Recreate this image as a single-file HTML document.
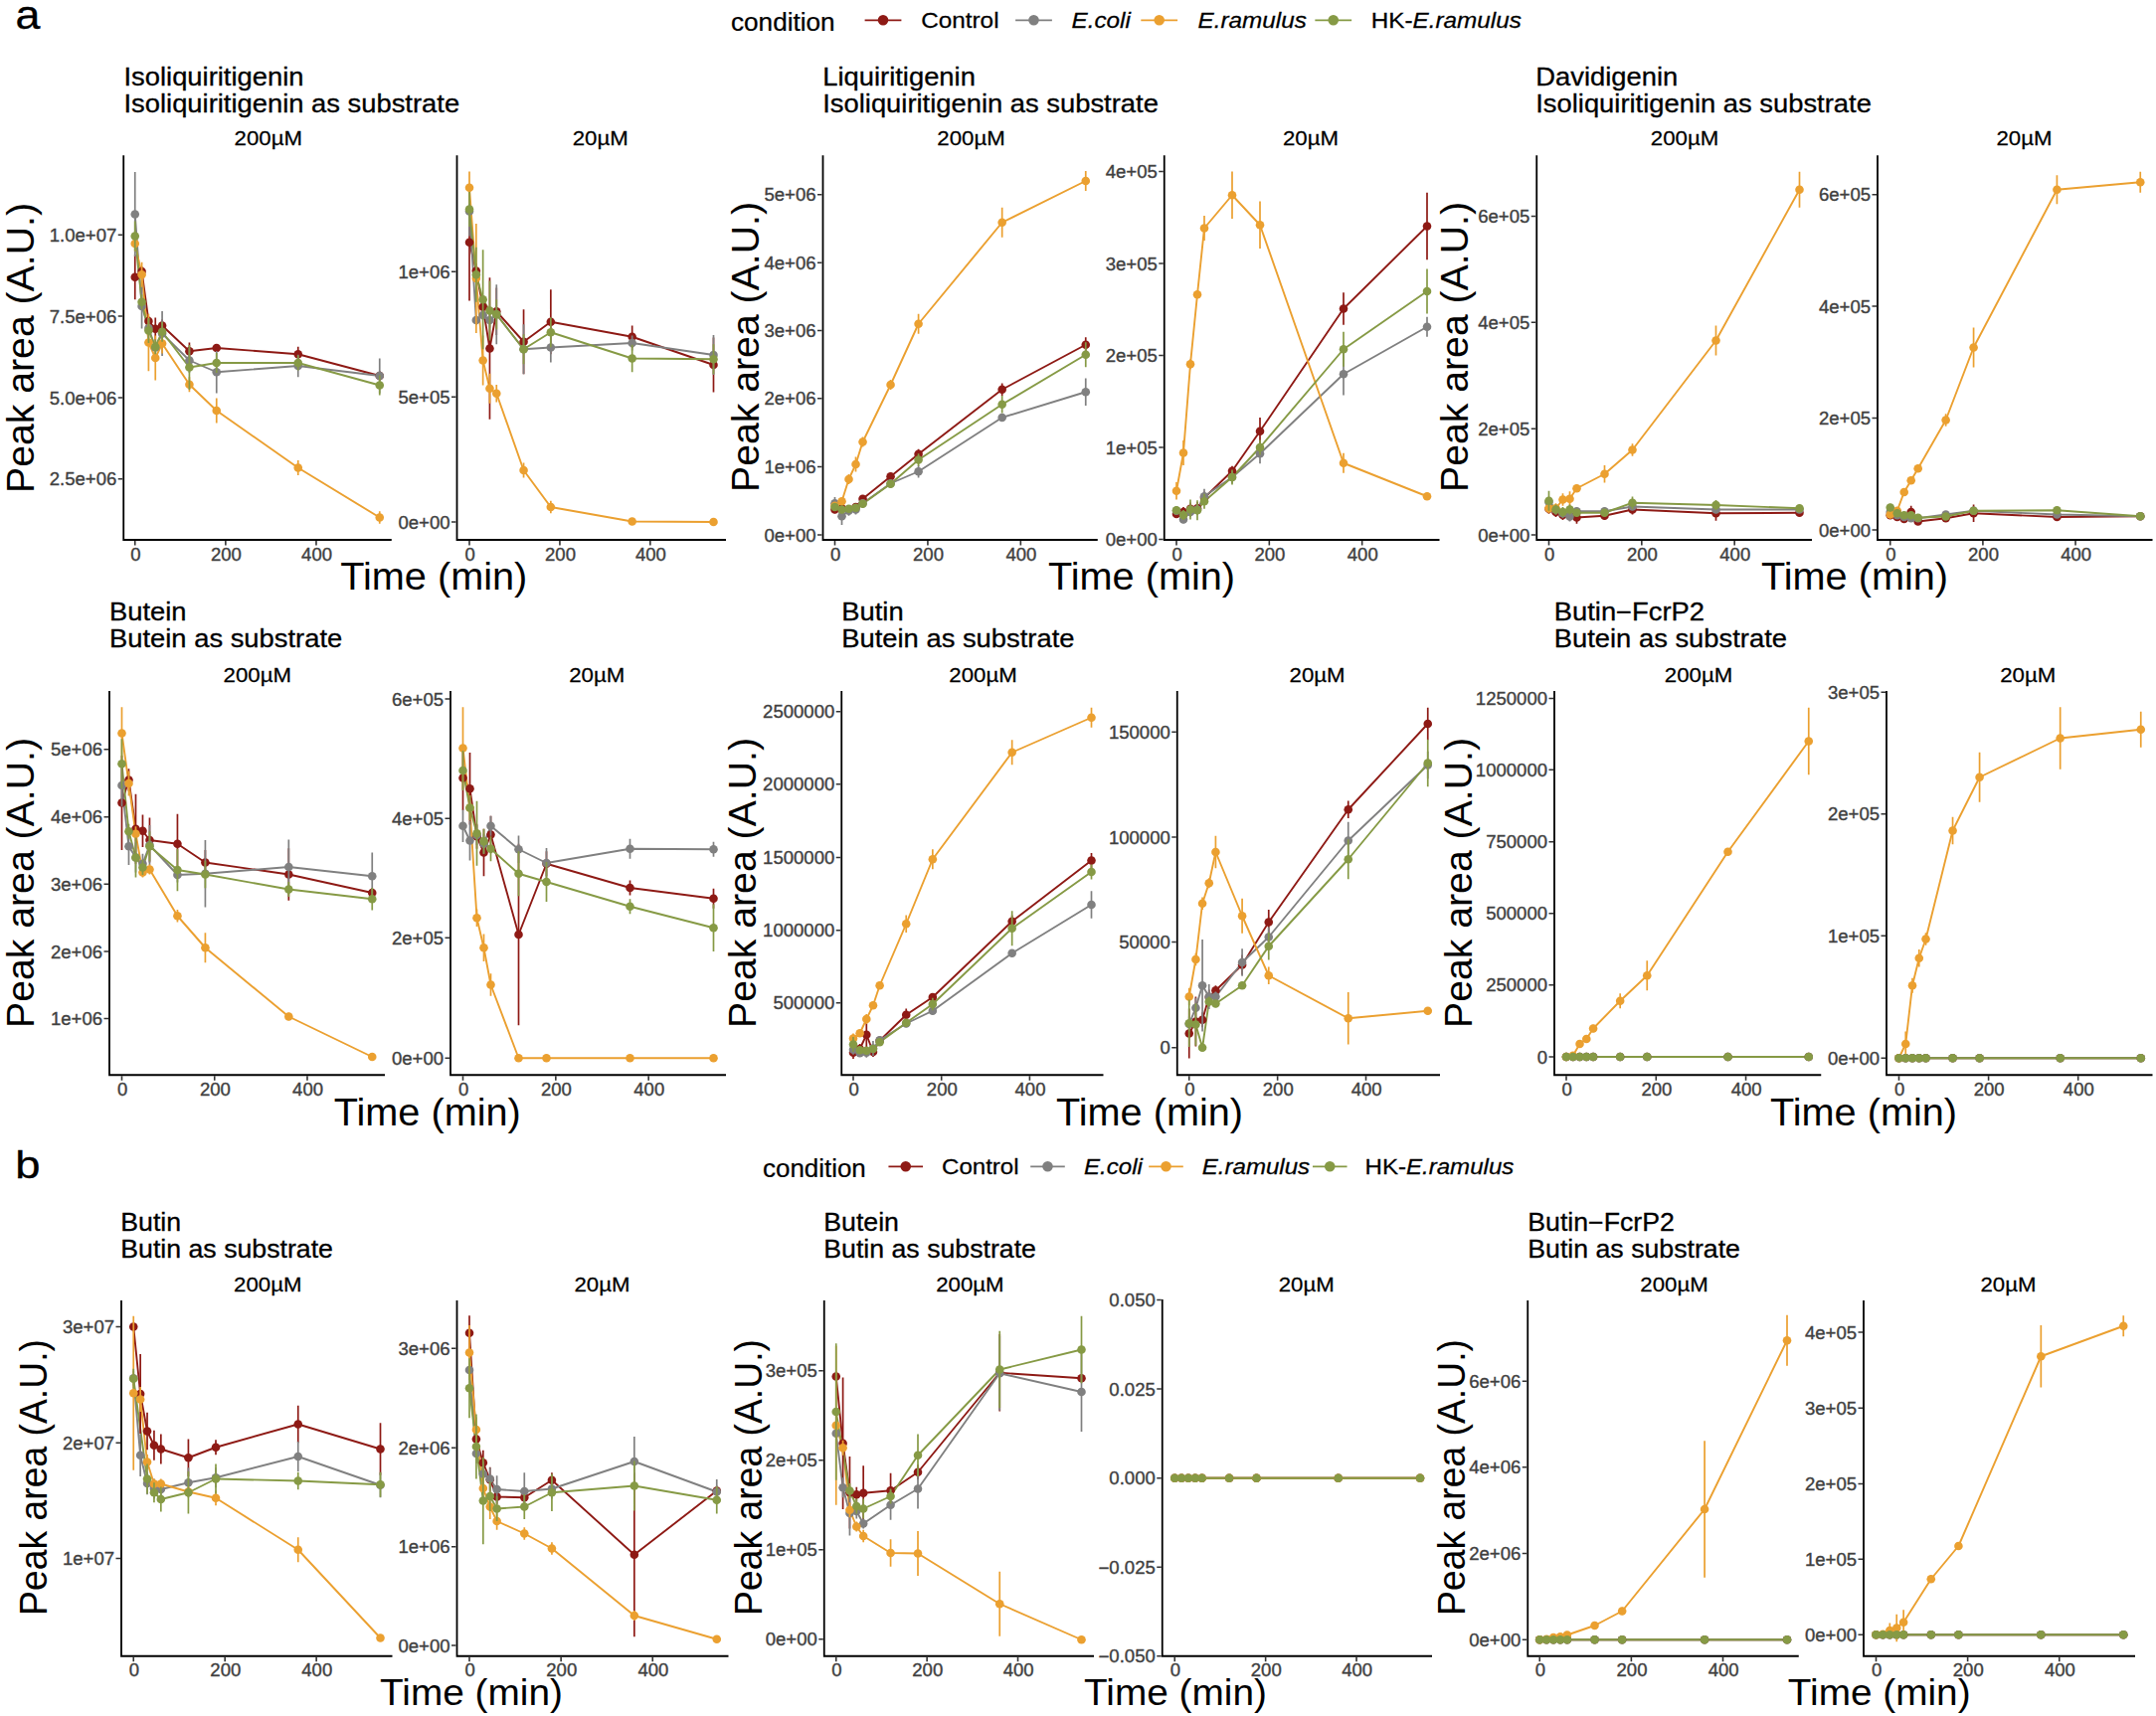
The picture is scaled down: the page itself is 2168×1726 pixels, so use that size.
<!DOCTYPE html>
<html lang="en"><head><meta charset="utf-8"><title>Figure</title>
<style>html,body{margin:0;padding:0;background:#fff}body{width:2168px;height:1726px;overflow:hidden}svg{display:block}text{white-space:pre}</style>
</head><body>
<svg width="2168" height="1726" viewBox="0 0 2168 1726" font-family='"Liberation Sans", Arial, sans-serif'>
<g id="p1">
<path d="M124.25 156.25V543H393.75" fill="none" stroke="#000" stroke-width="1.8" stroke-linejoin="miter"/>
<text transform="translate(136.35 563.7) scale(1.06 1)" font-size="17.5" text-anchor="middle" fill="#404040" stroke="#404040" stroke-width="0.35">0</text>
<text transform="translate(227.46 563.7) scale(1.06 1)" font-size="17.5" text-anchor="middle" fill="#404040" stroke="#404040" stroke-width="0.35">200</text>
<text transform="translate(318.57 563.7) scale(1.06 1)" font-size="17.5" text-anchor="middle" fill="#404040" stroke="#404040" stroke-width="0.35">400</text>
<text transform="translate(117.25 242.85) scale(1.06 1)" font-size="17.5" text-anchor="end" fill="#404040" stroke="#404040" stroke-width="0.35">1.0e+07</text>
<text transform="translate(117.25 324.6) scale(1.06 1)" font-size="17.5" text-anchor="end" fill="#404040" stroke="#404040" stroke-width="0.35">7.5e+06</text>
<text transform="translate(117.25 406.6) scale(1.06 1)" font-size="17.5" text-anchor="end" fill="#404040" stroke="#404040" stroke-width="0.35">5.0e+06</text>
<text transform="translate(117.25 488.35) scale(1.06 1)" font-size="17.5" text-anchor="end" fill="#404040" stroke="#404040" stroke-width="0.35">2.5e+06</text>
<path d="M135.75 544v4.5M226.86 544v4.5M317.97 544v4.5M123.25 236.25h-4.5M123.25 318h-4.5M123.25 400h-4.5M123.25 481.75h-4.5" fill="none" stroke="#333" stroke-width="1.6"/>
<polyline points="135.75,278.75 142.58,273 149.42,323 156.25,330.75 163.08,327.5 190.42,353.25 217.75,350 299.75,356.25 381.75,378" fill="none" stroke="#8E1A15" stroke-width="1.9" stroke-linejoin="round"/>
<polyline points="135.75,215.5 142.58,308 149.42,330 156.25,349.5 163.08,335.5 190.42,362.5 217.75,374.25 299.75,368 381.75,378" fill="none" stroke="#808080" stroke-width="1.9" stroke-linejoin="round"/>
<polyline points="135.75,245 142.58,276.25 149.42,344.5 156.25,360 163.08,345.5 190.42,386.75 217.75,413 299.75,470.5 381.75,520.5" fill="none" stroke="#EBA030" stroke-width="1.9" stroke-linejoin="round"/>
<polyline points="135.75,237.5 142.58,303.75 149.42,332.5 156.25,348.75 163.08,333.75 190.42,369.5 217.75,365 299.75,365 381.75,387.5" fill="none" stroke="#869A45" stroke-width="1.9" stroke-linejoin="round"/>
<g fill="#8E1A15" stroke="none"><path d="M135.75 256.25V301.25M142.58 268V278M149.42 318V328M156.25 319.5V342M163.08 321.25V333.75M190.42 344.5V362M217.75 346.25V353.75M299.75 348.75V363.75M381.75 373V383" stroke="#8E1A15" stroke-width="1.7" fill="none"/><circle cx="135.75" cy="278.75" r="4.3"/><circle cx="142.58" cy="273" r="4.3"/><circle cx="149.42" cy="323" r="4.3"/><circle cx="156.25" cy="330.75" r="4.3"/><circle cx="163.08" cy="327.5" r="4.3"/><circle cx="190.42" cy="353.25" r="4.3"/><circle cx="217.75" cy="350" r="4.3"/><circle cx="299.75" cy="356.25" r="4.3"/><circle cx="381.75" cy="378" r="4.3"/></g>
<g fill="#808080" stroke="none"><path d="M135.75 173V258M142.58 285.5V330.5M149.42 320V340M156.25 342V357M163.08 313V358M190.42 350V375M217.75 353V395.5M299.75 356.75V379.25M381.75 360.5V395.5" stroke="#808080" stroke-width="1.7" fill="none"/><circle cx="135.75" cy="215.5" r="4.3"/><circle cx="142.58" cy="308" r="4.3"/><circle cx="149.42" cy="330" r="4.3"/><circle cx="156.25" cy="349.5" r="4.3"/><circle cx="163.08" cy="335.5" r="4.3"/><circle cx="190.42" cy="362.5" r="4.3"/><circle cx="217.75" cy="374.25" r="4.3"/><circle cx="299.75" cy="368" r="4.3"/><circle cx="381.75" cy="378" r="4.3"/></g>
<g fill="#EBA030" stroke="none"><path d="M135.75 237.5V252.5M142.58 263.75V288.75M149.42 315.75V373.25M156.25 337.5V382.5M163.08 335.5V355.5M190.42 379.25V394.25M217.75 400.5V425.5M299.75 463V478M381.75 514.25V526.75" stroke="#EBA030" stroke-width="1.7" fill="none"/><circle cx="135.75" cy="245" r="4.3"/><circle cx="142.58" cy="276.25" r="4.3"/><circle cx="149.42" cy="344.5" r="4.3"/><circle cx="156.25" cy="360" r="4.3"/><circle cx="163.08" cy="345.5" r="4.3"/><circle cx="190.42" cy="386.75" r="4.3"/><circle cx="217.75" cy="413" r="4.3"/><circle cx="299.75" cy="470.5" r="4.3"/><circle cx="381.75" cy="520.5" r="4.3"/></g>
<g fill="#869A45" stroke="none"><path d="M135.75 222.5V252.5M142.58 296.25V311.25M149.42 320V345M156.25 341.25V356.25M163.08 323.75V343.75M190.42 347V392M217.75 355V375M299.75 357.5V372.5M381.75 377.5V397.5" stroke="#869A45" stroke-width="1.7" fill="none"/><circle cx="135.75" cy="237.5" r="4.3"/><circle cx="142.58" cy="303.75" r="4.3"/><circle cx="149.42" cy="332.5" r="4.3"/><circle cx="156.25" cy="348.75" r="4.3"/><circle cx="163.08" cy="333.75" r="4.3"/><circle cx="190.42" cy="369.5" r="4.3"/><circle cx="217.75" cy="365" r="4.3"/><circle cx="299.75" cy="365" r="4.3"/><circle cx="381.75" cy="387.5" r="4.3"/></g>
</g>
<g id="p2">
<path d="M459.5 156.25V543H730" fill="none" stroke="#000" stroke-width="1.8" stroke-linejoin="miter"/>
<text transform="translate(472.6 563.7) scale(1.06 1)" font-size="17.5" text-anchor="middle" fill="#404040" stroke="#404040" stroke-width="0.35">0</text>
<text transform="translate(563.53 563.7) scale(1.06 1)" font-size="17.5" text-anchor="middle" fill="#404040" stroke="#404040" stroke-width="0.35">200</text>
<text transform="translate(654.45 563.7) scale(1.06 1)" font-size="17.5" text-anchor="middle" fill="#404040" stroke="#404040" stroke-width="0.35">400</text>
<text transform="translate(452.5 279.85) scale(1.06 1)" font-size="17.5" text-anchor="end" fill="#404040" stroke="#404040" stroke-width="0.35">1e+06</text>
<text transform="translate(452.5 405.85) scale(1.06 1)" font-size="17.5" text-anchor="end" fill="#404040" stroke="#404040" stroke-width="0.35">5e+05</text>
<text transform="translate(452.5 531.6) scale(1.06 1)" font-size="17.5" text-anchor="end" fill="#404040" stroke="#404040" stroke-width="0.35">0e+00</text>
<path d="M472 544v4.5M562.93 544v4.5M653.85 544v4.5M458.5 273.25h-4.5M458.5 399.25h-4.5M458.5 525h-4.5" fill="none" stroke="#333" stroke-width="1.6"/>
<polyline points="472,243.75 478.82,272.5 485.64,308.75 492.46,350.5 499.28,313.25 526.56,343.75 553.83,323.75 635.67,338.75 717.5,367" fill="none" stroke="#8E1A15" stroke-width="1.9" stroke-linejoin="round"/>
<polyline points="472,212.5 478.82,322 485.64,317 492.46,322 499.28,316.25 526.56,351.25 553.83,349.5 635.67,345 717.5,357" fill="none" stroke="#808080" stroke-width="1.9" stroke-linejoin="round"/>
<polyline points="472,188.75 478.82,280 485.64,362.5 492.46,390.75 499.28,395.75 526.56,473 553.83,510 635.67,524.5 717.5,525" fill="none" stroke="#EBA030" stroke-width="1.9" stroke-linejoin="round"/>
<polyline points="472,210.5 478.82,276.25 485.64,301.25 492.46,312.5 499.28,316.25 526.56,351.25 553.83,334.25 635.67,360.5 717.5,361.25" fill="none" stroke="#869A45" stroke-width="1.9" stroke-linejoin="round"/>
<g fill="#8E1A15" stroke="none"><path d="M472 185V302.5M478.82 265V280M485.64 298.75V318.75M492.46 279.25V421.75M499.28 289.5V337M526.56 311.25V376.25M553.83 291.25V356.25M635.67 327.5V350M717.5 339.5V394.5" stroke="#8E1A15" stroke-width="1.7" fill="none"/><circle cx="472" cy="243.75" r="4.3"/><circle cx="478.82" cy="272.5" r="4.3"/><circle cx="485.64" cy="308.75" r="4.3"/><circle cx="492.46" cy="350.5" r="4.3"/><circle cx="499.28" cy="313.25" r="4.3"/><circle cx="526.56" cy="343.75" r="4.3"/><circle cx="553.83" cy="323.75" r="4.3"/><circle cx="635.67" cy="338.75" r="4.3"/><circle cx="717.5" cy="367" r="4.3"/></g>
<g fill="#808080" stroke="none"><path d="M472 187.5V237.5M478.82 317V327M485.64 312V322M492.46 314.5V329.5M499.28 286.25V346.25M526.56 326.25V376.25M553.83 334.5V364.5M635.67 337.5V352.5M717.5 337V377" stroke="#808080" stroke-width="1.7" fill="none"/><circle cx="472" cy="212.5" r="4.3"/><circle cx="478.82" cy="322" r="4.3"/><circle cx="485.64" cy="317" r="4.3"/><circle cx="492.46" cy="322" r="4.3"/><circle cx="499.28" cy="316.25" r="4.3"/><circle cx="526.56" cy="351.25" r="4.3"/><circle cx="553.83" cy="349.5" r="4.3"/><circle cx="635.67" cy="345" r="4.3"/><circle cx="717.5" cy="357" r="4.3"/></g>
<g fill="#EBA030" stroke="none"><path d="M472 172.5V205M478.82 225V335M485.64 337.5V387.5M492.46 375.75V405.75M499.28 387V404.5M526.56 465.5V480.5M553.83 503.75V516.25M635.67 523.25V525.75M717.5 523.75V526.25" stroke="#EBA030" stroke-width="1.7" fill="none"/><circle cx="472" cy="188.75" r="4.3"/><circle cx="478.82" cy="280" r="4.3"/><circle cx="485.64" cy="362.5" r="4.3"/><circle cx="492.46" cy="390.75" r="4.3"/><circle cx="499.28" cy="395.75" r="4.3"/><circle cx="526.56" cy="473" r="4.3"/><circle cx="553.83" cy="510" r="4.3"/><circle cx="635.67" cy="524.5" r="4.3"/><circle cx="717.5" cy="525" r="4.3"/></g>
<g fill="#869A45" stroke="none"><path d="M472 193V228M478.82 248.75V303.75M485.64 251.25V351.25M492.46 282.5V342.5M499.28 301.25V331.25M526.56 336.25V366.25M553.83 319.25V349.25M635.67 346.75V374.25M717.5 346.25V376.25" stroke="#869A45" stroke-width="1.7" fill="none"/><circle cx="472" cy="210.5" r="4.3"/><circle cx="478.82" cy="276.25" r="4.3"/><circle cx="485.64" cy="301.25" r="4.3"/><circle cx="492.46" cy="312.5" r="4.3"/><circle cx="499.28" cy="316.25" r="4.3"/><circle cx="526.56" cy="351.25" r="4.3"/><circle cx="553.83" cy="334.25" r="4.3"/><circle cx="635.67" cy="360.5" r="4.3"/><circle cx="717.5" cy="361.25" r="4.3"/></g>
</g>
<g id="p3">
<path d="M827.5 156.25V543H1103.75" fill="none" stroke="#000" stroke-width="1.8" stroke-linejoin="miter"/>
<text transform="translate(840.1 563.7) scale(1.06 1)" font-size="17.5" text-anchor="middle" fill="#404040" stroke="#404040" stroke-width="0.35">0</text>
<text transform="translate(933.53 563.7) scale(1.06 1)" font-size="17.5" text-anchor="middle" fill="#404040" stroke="#404040" stroke-width="0.35">200</text>
<text transform="translate(1026.95 563.7) scale(1.06 1)" font-size="17.5" text-anchor="middle" fill="#404040" stroke="#404040" stroke-width="0.35">400</text>
<text transform="translate(820.5 202.35) scale(1.06 1)" font-size="17.5" text-anchor="end" fill="#404040" stroke="#404040" stroke-width="0.35">5e+06</text>
<text transform="translate(820.5 270.85) scale(1.06 1)" font-size="17.5" text-anchor="end" fill="#404040" stroke="#404040" stroke-width="0.35">4e+06</text>
<text transform="translate(820.5 339.1) scale(1.06 1)" font-size="17.5" text-anchor="end" fill="#404040" stroke="#404040" stroke-width="0.35">3e+06</text>
<text transform="translate(820.5 407.35) scale(1.06 1)" font-size="17.5" text-anchor="end" fill="#404040" stroke="#404040" stroke-width="0.35">2e+06</text>
<text transform="translate(820.5 476.1) scale(1.06 1)" font-size="17.5" text-anchor="end" fill="#404040" stroke="#404040" stroke-width="0.35">1e+06</text>
<text transform="translate(820.5 544.6) scale(1.06 1)" font-size="17.5" text-anchor="end" fill="#404040" stroke="#404040" stroke-width="0.35">0e+00</text>
<path d="M839.5 544v4.5M932.93 544v4.5M1026.35 544v4.5M826.5 195.75h-4.5M826.5 264.25h-4.5M826.5 332.5h-4.5M826.5 400.75h-4.5M826.5 469.5h-4.5M826.5 538h-4.5" fill="none" stroke="#333" stroke-width="1.6"/>
<polyline points="839.5,512.5 846.51,511.25 853.51,512.5 860.52,510 867.53,501.75 895.56,479.25 923.58,456.75 1007.67,391.75 1091.75,346.75" fill="none" stroke="#8E1A15" stroke-width="1.9" stroke-linejoin="round"/>
<polyline points="839.5,506.25 846.51,519.25 853.51,513.75 860.52,512.5 867.53,506.25 895.56,486.25 923.58,474.25 1007.67,420 1091.75,394.25" fill="none" stroke="#808080" stroke-width="1.9" stroke-linejoin="round"/>
<polyline points="839.5,508.75 846.51,504.25 853.51,482 860.52,467 867.53,444.5 895.56,387 923.58,325.75 1007.67,223.75 1091.75,182" fill="none" stroke="#EBA030" stroke-width="1.9" stroke-linejoin="round"/>
<polyline points="839.5,510 846.51,512.5 853.51,511.75 860.52,510.75 867.53,506.75 895.56,486.75 923.58,462.5 1007.67,406.75 1091.75,356.75" fill="none" stroke="#869A45" stroke-width="1.9" stroke-linejoin="round"/>
<g fill="#8E1A15" stroke="none"><path d="M839.5 508.75V516.25M846.51 507.5V515M853.51 508.75V516.25M860.52 506.25V513.75M867.53 498V505.5M895.56 475.5V483M923.58 451.75V461.75M1007.67 385.5V398M1091.75 339.25V354.25" stroke="#8E1A15" stroke-width="1.7" fill="none"/><circle cx="839.5" cy="512.5" r="4.3"/><circle cx="846.51" cy="511.25" r="4.3"/><circle cx="853.51" cy="512.5" r="4.3"/><circle cx="860.52" cy="510" r="4.3"/><circle cx="867.53" cy="501.75" r="4.3"/><circle cx="895.56" cy="479.25" r="4.3"/><circle cx="923.58" cy="456.75" r="4.3"/><circle cx="1007.67" cy="391.75" r="4.3"/><circle cx="1091.75" cy="346.75" r="4.3"/></g>
<g fill="#808080" stroke="none"><path d="M839.5 500V512.5M846.51 510.5V528M853.51 508.75V518.75M860.52 507.5V517.5M867.53 502.5V510M895.56 482.5V490M923.58 468V480.5M1007.67 416.25V423.75M1091.75 380.5V408" stroke="#808080" stroke-width="1.7" fill="none"/><circle cx="839.5" cy="506.25" r="4.3"/><circle cx="846.51" cy="519.25" r="4.3"/><circle cx="853.51" cy="513.75" r="4.3"/><circle cx="860.52" cy="512.5" r="4.3"/><circle cx="867.53" cy="506.25" r="4.3"/><circle cx="895.56" cy="486.25" r="4.3"/><circle cx="923.58" cy="474.25" r="4.3"/><circle cx="1007.67" cy="420" r="4.3"/><circle cx="1091.75" cy="394.25" r="4.3"/></g>
<g fill="#EBA030" stroke="none"><path d="M839.5 505V512.5M846.51 500.5V508M853.51 477V487M860.52 459.5V474.5M867.53 439.5V449.5M895.56 382V392M923.58 315.75V335.75M1007.67 208.75V238.75M1091.75 172V192" stroke="#EBA030" stroke-width="1.7" fill="none"/><circle cx="839.5" cy="508.75" r="4.3"/><circle cx="846.51" cy="504.25" r="4.3"/><circle cx="853.51" cy="482" r="4.3"/><circle cx="860.52" cy="467" r="4.3"/><circle cx="867.53" cy="444.5" r="4.3"/><circle cx="895.56" cy="387" r="4.3"/><circle cx="923.58" cy="325.75" r="4.3"/><circle cx="1007.67" cy="223.75" r="4.3"/><circle cx="1091.75" cy="182" r="4.3"/></g>
<g fill="#869A45" stroke="none"><path d="M839.5 506.25V513.75M846.51 508.75V516.25M853.51 508V515.5M860.52 507V514.5M867.53 503V510.5M895.56 483V490.5M923.58 456.25V468.75M1007.67 398V415.5M1091.75 344.25V369.25" stroke="#869A45" stroke-width="1.7" fill="none"/><circle cx="839.5" cy="510" r="4.3"/><circle cx="846.51" cy="512.5" r="4.3"/><circle cx="853.51" cy="511.75" r="4.3"/><circle cx="860.52" cy="510.75" r="4.3"/><circle cx="867.53" cy="506.75" r="4.3"/><circle cx="895.56" cy="486.75" r="4.3"/><circle cx="923.58" cy="462.5" r="4.3"/><circle cx="1007.67" cy="406.75" r="4.3"/><circle cx="1091.75" cy="356.75" r="4.3"/></g>
</g>
<g id="p4">
<path d="M1170.75 156.25V543H1447.5" fill="none" stroke="#000" stroke-width="1.8" stroke-linejoin="miter"/>
<text transform="translate(1183.6 563.7) scale(1.06 1)" font-size="17.5" text-anchor="middle" fill="#404040" stroke="#404040" stroke-width="0.35">0</text>
<text transform="translate(1276.93 563.7) scale(1.06 1)" font-size="17.5" text-anchor="middle" fill="#404040" stroke="#404040" stroke-width="0.35">200</text>
<text transform="translate(1370.27 563.7) scale(1.06 1)" font-size="17.5" text-anchor="middle" fill="#404040" stroke="#404040" stroke-width="0.35">400</text>
<text transform="translate(1163.75 179.1) scale(1.06 1)" font-size="17.5" text-anchor="end" fill="#404040" stroke="#404040" stroke-width="0.35">4e+05</text>
<text transform="translate(1163.75 271.6) scale(1.06 1)" font-size="17.5" text-anchor="end" fill="#404040" stroke="#404040" stroke-width="0.35">3e+05</text>
<text transform="translate(1163.75 364.1) scale(1.06 1)" font-size="17.5" text-anchor="end" fill="#404040" stroke="#404040" stroke-width="0.35">2e+05</text>
<text transform="translate(1163.75 456.6) scale(1.06 1)" font-size="17.5" text-anchor="end" fill="#404040" stroke="#404040" stroke-width="0.35">1e+05</text>
<text transform="translate(1163.75 549.1) scale(1.06 1)" font-size="17.5" text-anchor="end" fill="#404040" stroke="#404040" stroke-width="0.35">0e+00</text>
<path d="M1183 544v4.5M1276.33 544v4.5M1369.67 544v4.5M1169.75 172.5h-4.5M1169.75 265h-4.5M1169.75 357.5h-4.5M1169.75 450h-4.5M1169.75 542.5h-4.5" fill="none" stroke="#333" stroke-width="1.6"/>
<polyline points="1183,517 1190,515 1197,511.75 1204,511.25 1211,500.75 1239,473.75 1267,433.75 1351,310.5 1435,227.5" fill="none" stroke="#8E1A15" stroke-width="1.9" stroke-linejoin="round"/>
<polyline points="1183,513.75 1190,522.5 1197,515 1204,512.5 1211,499.25 1239,480 1267,456.25 1351,376.25 1435,328.75" fill="none" stroke="#808080" stroke-width="1.9" stroke-linejoin="round"/>
<polyline points="1183,493.75 1190,455.5 1197,366.25 1204,296.25 1211,229.5 1239,196.25 1267,226.25 1351,465.75 1435,499.25" fill="none" stroke="#EBA030" stroke-width="1.9" stroke-linejoin="round"/>
<polyline points="1183,513.25 1190,518 1197,512.5 1204,513.25 1211,504.25 1239,480 1267,450 1351,351.25 1435,293" fill="none" stroke="#869A45" stroke-width="1.9" stroke-linejoin="round"/>
<g fill="#8E1A15" stroke="none"><path d="M1183 513.25V520.75M1190 510V520M1197 505.5V518M1204 505V517.5M1211 494.5V507M1239 468.75V478.75M1267 420V447.5M1351 294.25V326.75M1435 193.75V261.25" stroke="#8E1A15" stroke-width="1.7" fill="none"/><circle cx="1183" cy="517" r="4.3"/><circle cx="1190" cy="515" r="4.3"/><circle cx="1197" cy="511.75" r="4.3"/><circle cx="1204" cy="511.25" r="4.3"/><circle cx="1211" cy="500.75" r="4.3"/><circle cx="1239" cy="473.75" r="4.3"/><circle cx="1267" cy="433.75" r="4.3"/><circle cx="1351" cy="310.5" r="4.3"/><circle cx="1435" cy="227.5" r="4.3"/></g>
<g fill="#808080" stroke="none"><path d="M1183 511.25V516.25M1190 518.75V526.25M1197 510V520M1204 507.5V517.5M1211 491.75V506.75M1239 473.75V486.25M1267 446.25V466.25M1351 355V397.5M1435 318.75V338.75" stroke="#808080" stroke-width="1.7" fill="none"/><circle cx="1183" cy="513.75" r="4.3"/><circle cx="1190" cy="522.5" r="4.3"/><circle cx="1197" cy="515" r="4.3"/><circle cx="1204" cy="512.5" r="4.3"/><circle cx="1211" cy="499.25" r="4.3"/><circle cx="1239" cy="480" r="4.3"/><circle cx="1267" cy="456.25" r="4.3"/><circle cx="1351" cy="376.25" r="4.3"/><circle cx="1435" cy="328.75" r="4.3"/></g>
<g fill="#EBA030" stroke="none"><path d="M1183 485V502.5M1190 443V468M1197 361.25V371.25M1204 292.5V300M1211 217V242M1239 172.5V220M1267 202.5V250M1351 455.75V475.75M1435 495.5V503" stroke="#EBA030" stroke-width="1.7" fill="none"/><circle cx="1183" cy="493.75" r="4.3"/><circle cx="1190" cy="455.5" r="4.3"/><circle cx="1197" cy="366.25" r="4.3"/><circle cx="1204" cy="296.25" r="4.3"/><circle cx="1211" cy="229.5" r="4.3"/><circle cx="1239" cy="196.25" r="4.3"/><circle cx="1267" cy="226.25" r="4.3"/><circle cx="1351" cy="465.75" r="4.3"/><circle cx="1435" cy="499.25" r="4.3"/></g>
<g fill="#869A45" stroke="none"><path d="M1183 509.5V517M1190 513V523M1197 502.5V522.5M1204 503.25V523.25M1211 496.75V511.75M1239 472.5V487.5M1267 442.5V457.5M1351 333.75V368.75M1435 270.5V315.5" stroke="#869A45" stroke-width="1.7" fill="none"/><circle cx="1183" cy="513.25" r="4.3"/><circle cx="1190" cy="518" r="4.3"/><circle cx="1197" cy="512.5" r="4.3"/><circle cx="1204" cy="513.25" r="4.3"/><circle cx="1211" cy="504.25" r="4.3"/><circle cx="1239" cy="480" r="4.3"/><circle cx="1267" cy="450" r="4.3"/><circle cx="1351" cy="351.25" r="4.3"/><circle cx="1435" cy="293" r="4.3"/></g>
</g>
<g id="p5">
<path d="M1545.25 156.25V543H1822" fill="none" stroke="#000" stroke-width="1.8" stroke-linejoin="miter"/>
<text transform="translate(1558.1 563.7) scale(1.06 1)" font-size="17.5" text-anchor="middle" fill="#404040" stroke="#404040" stroke-width="0.35">0</text>
<text transform="translate(1651.43 563.7) scale(1.06 1)" font-size="17.5" text-anchor="middle" fill="#404040" stroke="#404040" stroke-width="0.35">200</text>
<text transform="translate(1744.77 563.7) scale(1.06 1)" font-size="17.5" text-anchor="middle" fill="#404040" stroke="#404040" stroke-width="0.35">400</text>
<text transform="translate(1538.25 224.1) scale(1.06 1)" font-size="17.5" text-anchor="end" fill="#404040" stroke="#404040" stroke-width="0.35">6e+05</text>
<text transform="translate(1538.25 330.85) scale(1.06 1)" font-size="17.5" text-anchor="end" fill="#404040" stroke="#404040" stroke-width="0.35">4e+05</text>
<text transform="translate(1538.25 437.85) scale(1.06 1)" font-size="17.5" text-anchor="end" fill="#404040" stroke="#404040" stroke-width="0.35">2e+05</text>
<text transform="translate(1538.25 544.6) scale(1.06 1)" font-size="17.5" text-anchor="end" fill="#404040" stroke="#404040" stroke-width="0.35">0e+00</text>
<path d="M1557.5 544v4.5M1650.83 544v4.5M1744.17 544v4.5M1544.25 217.5h-4.5M1544.25 324.25h-4.5M1544.25 431.25h-4.5M1544.25 538h-4.5" fill="none" stroke="#333" stroke-width="1.6"/>
<polyline points="1557.5,511.75 1564.5,515 1571.5,518 1578.5,518.75 1585.5,520.5 1613.5,518.75 1641.5,512.5 1725.5,516.25 1809.5,515.75" fill="none" stroke="#8E1A15" stroke-width="1.9" stroke-linejoin="round"/>
<polyline points="1557.5,505 1564.5,512.5 1571.5,516.25 1578.5,519.5 1585.5,514.25 1613.5,514.25 1641.5,509.5 1725.5,512.5 1809.5,512.5" fill="none" stroke="#808080" stroke-width="1.9" stroke-linejoin="round"/>
<polyline points="1557.5,511.25 1564.5,511.25 1571.5,502.5 1578.5,501.75 1585.5,491.25 1613.5,476.75 1641.5,452.5 1725.5,342.5 1809.5,190.75" fill="none" stroke="#EBA030" stroke-width="1.9" stroke-linejoin="round"/>
<polyline points="1557.5,503.75 1564.5,512.5 1571.5,515 1578.5,512.5 1585.5,515.75 1613.5,515.75 1641.5,505.75 1725.5,508 1809.5,511.25" fill="none" stroke="#869A45" stroke-width="1.9" stroke-linejoin="round"/>
<g fill="#8E1A15" stroke="none"><path d="M1557.5 506.75V516.75M1564.5 510V520M1571.5 513V523M1578.5 513.75V523.75M1585.5 514.25V526.75M1613.5 515V522.5M1641.5 507.5V517.5M1725.5 508.75V523.75M1809.5 513.25V518.25" stroke="#8E1A15" stroke-width="1.7" fill="none"/><circle cx="1557.5" cy="511.75" r="4.3"/><circle cx="1564.5" cy="515" r="4.3"/><circle cx="1571.5" cy="518" r="4.3"/><circle cx="1578.5" cy="518.75" r="4.3"/><circle cx="1585.5" cy="520.5" r="4.3"/><circle cx="1613.5" cy="518.75" r="4.3"/><circle cx="1641.5" cy="512.5" r="4.3"/><circle cx="1725.5" cy="516.25" r="4.3"/><circle cx="1809.5" cy="515.75" r="4.3"/></g>
<g fill="#808080" stroke="none"><path d="M1557.5 500V510M1564.5 507.5V517.5M1571.5 511.25V521.25M1578.5 514.5V524.5M1585.5 510.5V518M1613.5 510.5V518M1641.5 505.75V513.25M1725.5 508.75V516.25M1809.5 510V515" stroke="#808080" stroke-width="1.7" fill="none"/><circle cx="1557.5" cy="505" r="4.3"/><circle cx="1564.5" cy="512.5" r="4.3"/><circle cx="1571.5" cy="516.25" r="4.3"/><circle cx="1578.5" cy="519.5" r="4.3"/><circle cx="1585.5" cy="514.25" r="4.3"/><circle cx="1613.5" cy="514.25" r="4.3"/><circle cx="1641.5" cy="509.5" r="4.3"/><circle cx="1725.5" cy="512.5" r="4.3"/><circle cx="1809.5" cy="512.5" r="4.3"/></g>
<g fill="#EBA030" stroke="none"><path d="M1557.5 506.25V516.25M1564.5 506.25V516.25M1571.5 496.25V508.75M1578.5 494.25V509.25M1585.5 487.5V495M1613.5 468V485.5M1641.5 446.25V458.75M1725.5 327.5V357.5M1809.5 172.75V208.75" stroke="#EBA030" stroke-width="1.7" fill="none"/><circle cx="1557.5" cy="511.25" r="4.3"/><circle cx="1564.5" cy="511.25" r="4.3"/><circle cx="1571.5" cy="502.5" r="4.3"/><circle cx="1578.5" cy="501.75" r="4.3"/><circle cx="1585.5" cy="491.25" r="4.3"/><circle cx="1613.5" cy="476.75" r="4.3"/><circle cx="1641.5" cy="452.5" r="4.3"/><circle cx="1725.5" cy="342.5" r="4.3"/><circle cx="1809.5" cy="190.75" r="4.3"/></g>
<g fill="#869A45" stroke="none"><path d="M1557.5 493.75V513.75M1564.5 507.5V517.5M1571.5 510V520M1578.5 507.5V517.5M1585.5 512V519.5M1613.5 512V519.5M1641.5 499.5V512M1725.5 503V513M1809.5 508.75V513.75" stroke="#869A45" stroke-width="1.7" fill="none"/><circle cx="1557.5" cy="503.75" r="4.3"/><circle cx="1564.5" cy="512.5" r="4.3"/><circle cx="1571.5" cy="515" r="4.3"/><circle cx="1578.5" cy="512.5" r="4.3"/><circle cx="1585.5" cy="515.75" r="4.3"/><circle cx="1613.5" cy="515.75" r="4.3"/><circle cx="1641.5" cy="505.75" r="4.3"/><circle cx="1725.5" cy="508" r="4.3"/><circle cx="1809.5" cy="511.25" r="4.3"/></g>
</g>
<g id="p6">
<path d="M1888 156.25V543H2164.5" fill="none" stroke="#000" stroke-width="1.8" stroke-linejoin="miter"/>
<text transform="translate(1901.35 563.7) scale(1.06 1)" font-size="17.5" text-anchor="middle" fill="#404040" stroke="#404040" stroke-width="0.35">0</text>
<text transform="translate(1994.5 563.7) scale(1.06 1)" font-size="17.5" text-anchor="middle" fill="#404040" stroke="#404040" stroke-width="0.35">200</text>
<text transform="translate(2087.65 563.7) scale(1.06 1)" font-size="17.5" text-anchor="middle" fill="#404040" stroke="#404040" stroke-width="0.35">400</text>
<text transform="translate(1881 202.35) scale(1.06 1)" font-size="17.5" text-anchor="end" fill="#404040" stroke="#404040" stroke-width="0.35">6e+05</text>
<text transform="translate(1881 314.6) scale(1.06 1)" font-size="17.5" text-anchor="end" fill="#404040" stroke="#404040" stroke-width="0.35">4e+05</text>
<text transform="translate(1881 427.1) scale(1.06 1)" font-size="17.5" text-anchor="end" fill="#404040" stroke="#404040" stroke-width="0.35">2e+05</text>
<text transform="translate(1881 539.6) scale(1.06 1)" font-size="17.5" text-anchor="end" fill="#404040" stroke="#404040" stroke-width="0.35">0e+00</text>
<path d="M1900.75 544v4.5M1993.9 544v4.5M2087.05 544v4.5M1887 195.75h-4.5M1887 308h-4.5M1887 420.5h-4.5M1887 533h-4.5" fill="none" stroke="#333" stroke-width="1.6"/>
<polyline points="1900.75,518.25 1907.74,520 1914.72,522 1921.71,515 1928.69,524.5 1956.64,521.25 1984.58,516.25 2068.42,520 2152.25,519.25" fill="none" stroke="#8E1A15" stroke-width="1.9" stroke-linejoin="round"/>
<polyline points="1900.75,515 1907.74,518.25 1914.72,520 1921.71,521.25 1928.69,521.25 1956.64,517.5 1984.58,513.75 2068.42,517.5 2152.25,519.25" fill="none" stroke="#808080" stroke-width="1.9" stroke-linejoin="round"/>
<polyline points="1900.75,517.5 1907.74,513.75 1914.72,495 1921.71,483.25 1928.69,471.25 1956.64,422.5 1984.58,349.5 2068.42,190.75 2152.25,183.25" fill="none" stroke="#EBA030" stroke-width="1.9" stroke-linejoin="round"/>
<polyline points="1900.75,510.5 1907.74,516.25 1914.72,518.25 1921.71,518.25 1928.69,520.75 1956.64,519.5 1984.58,513.75 2068.42,513.25 2152.25,519.25" fill="none" stroke="#869A45" stroke-width="1.9" stroke-linejoin="round"/>
<g fill="#8E1A15" stroke="none"><path d="M1900.75 514.5V522M1907.74 516.25V523.75M1914.72 518.25V525.75M1921.71 508.75V521.25M1928.69 522V527M1956.64 518.75V523.75M1984.58 507.5V525M2068.42 516.25V523.75M2152.25 516.75V521.75" stroke="#8E1A15" stroke-width="1.7" fill="none"/><circle cx="1900.75" cy="518.25" r="4.3"/><circle cx="1907.74" cy="520" r="4.3"/><circle cx="1914.72" cy="522" r="4.3"/><circle cx="1921.71" cy="515" r="4.3"/><circle cx="1928.69" cy="524.5" r="4.3"/><circle cx="1956.64" cy="521.25" r="4.3"/><circle cx="1984.58" cy="516.25" r="4.3"/><circle cx="2068.42" cy="520" r="4.3"/><circle cx="2152.25" cy="519.25" r="4.3"/></g>
<g fill="#808080" stroke="none"><path d="M1900.75 512.5V517.5M1907.74 515.75V520.75M1914.72 517.5V522.5M1921.71 518.75V523.75M1928.69 518.75V523.75M1956.64 515V520M1984.58 511.25V516.25M2068.42 515V520M2152.25 516.75V521.75" stroke="#808080" stroke-width="1.7" fill="none"/><circle cx="1900.75" cy="515" r="4.3"/><circle cx="1907.74" cy="518.25" r="4.3"/><circle cx="1914.72" cy="520" r="4.3"/><circle cx="1921.71" cy="521.25" r="4.3"/><circle cx="1928.69" cy="521.25" r="4.3"/><circle cx="1956.64" cy="517.5" r="4.3"/><circle cx="1984.58" cy="513.75" r="4.3"/><circle cx="2068.42" cy="517.5" r="4.3"/><circle cx="2152.25" cy="519.25" r="4.3"/></g>
<g fill="#EBA030" stroke="none"><path d="M1900.75 513.75V521.25M1907.74 510V517.5M1914.72 491.25V498.75M1921.71 479.5V487M1928.69 467.5V475M1956.64 416.25V428.75M1984.58 329.5V369.5M2068.42 176.25V205.25M2152.25 172.75V193.75" stroke="#EBA030" stroke-width="1.7" fill="none"/><circle cx="1900.75" cy="517.5" r="4.3"/><circle cx="1907.74" cy="513.75" r="4.3"/><circle cx="1914.72" cy="495" r="4.3"/><circle cx="1921.71" cy="483.25" r="4.3"/><circle cx="1928.69" cy="471.25" r="4.3"/><circle cx="1956.64" cy="422.5" r="4.3"/><circle cx="1984.58" cy="349.5" r="4.3"/><circle cx="2068.42" cy="190.75" r="4.3"/><circle cx="2152.25" cy="183.25" r="4.3"/></g>
<g fill="#869A45" stroke="none"><path d="M1900.75 506.75V514.25M1907.74 513.75V518.75M1914.72 515.75V520.75M1921.71 515.75V520.75M1928.69 518.25V523.25M1956.64 517V522M1984.58 510V517.5M2068.42 509.5V517M2152.25 516.75V521.75" stroke="#869A45" stroke-width="1.7" fill="none"/><circle cx="1900.75" cy="510.5" r="4.3"/><circle cx="1907.74" cy="516.25" r="4.3"/><circle cx="1914.72" cy="518.25" r="4.3"/><circle cx="1921.71" cy="518.25" r="4.3"/><circle cx="1928.69" cy="520.75" r="4.3"/><circle cx="1956.64" cy="519.5" r="4.3"/><circle cx="1984.58" cy="513.75" r="4.3"/><circle cx="2068.42" cy="513.25" r="4.3"/><circle cx="2152.25" cy="519.25" r="4.3"/></g>
</g>
<g id="p7">
<path d="M110 695V1081.25H387" fill="none" stroke="#000" stroke-width="1.8" stroke-linejoin="miter"/>
<text transform="translate(123.1 1101.95) scale(1.06 1)" font-size="17.5" text-anchor="middle" fill="#404040" stroke="#404040" stroke-width="0.35">0</text>
<text transform="translate(216.34 1101.95) scale(1.06 1)" font-size="17.5" text-anchor="middle" fill="#404040" stroke="#404040" stroke-width="0.35">200</text>
<text transform="translate(309.58 1101.95) scale(1.06 1)" font-size="17.5" text-anchor="middle" fill="#404040" stroke="#404040" stroke-width="0.35">400</text>
<text transform="translate(103 760.35) scale(1.06 1)" font-size="17.5" text-anchor="end" fill="#404040" stroke="#404040" stroke-width="0.35">5e+06</text>
<text transform="translate(103 828.35) scale(1.06 1)" font-size="17.5" text-anchor="end" fill="#404040" stroke="#404040" stroke-width="0.35">4e+06</text>
<text transform="translate(103 895.85) scale(1.06 1)" font-size="17.5" text-anchor="end" fill="#404040" stroke="#404040" stroke-width="0.35">3e+06</text>
<text transform="translate(103 963.6) scale(1.06 1)" font-size="17.5" text-anchor="end" fill="#404040" stroke="#404040" stroke-width="0.35">2e+06</text>
<text transform="translate(103 1031.1) scale(1.06 1)" font-size="17.5" text-anchor="end" fill="#404040" stroke="#404040" stroke-width="0.35">1e+06</text>
<path d="M122.5 1082.25v4.5M215.74 1082.25v4.5M308.98 1082.25v4.5M109 753.75h-4.5M109 821.75h-4.5M109 889.25h-4.5M109 957h-4.5M109 1024.5h-4.5" fill="none" stroke="#333" stroke-width="1.6"/>
<polyline points="122.5,807.5 129.49,784.5 136.49,833.75 143.48,835.75 150.47,845 178.44,848.75 206.42,867.5 290.33,879.5 374.25,898" fill="none" stroke="#8E1A15" stroke-width="1.9" stroke-linejoin="round"/>
<polyline points="122.5,790 129.49,851.25 136.49,862.5 143.48,868.75 150.47,850 178.44,880 206.42,878.75 290.33,872 374.25,881.25" fill="none" stroke="#808080" stroke-width="1.9" stroke-linejoin="round"/>
<polyline points="122.5,737.5 129.49,788 136.49,838.75 143.48,877.5 150.47,874.5 178.44,921.25 206.42,953.25 290.33,1022.5 374.25,1063" fill="none" stroke="#EBA030" stroke-width="1.9" stroke-linejoin="round"/>
<polyline points="122.5,768.25 129.49,836.25 136.49,862.5 143.48,872.5 150.47,851.25 178.44,875 206.42,879.5 290.33,894.5 374.25,904.25" fill="none" stroke="#869A45" stroke-width="1.9" stroke-linejoin="round"/>
<g fill="#8E1A15" stroke="none"><path d="M122.5 760V855M129.49 773.25V795.75M136.49 798.75V868.75M143.48 819.5V852M150.47 822.5V867.5M178.44 818.75V878.75M206.42 855V880M290.33 853.25V905.75M374.25 893V903" stroke="#8E1A15" stroke-width="1.7" fill="none"/><circle cx="122.5" cy="807.5" r="4.3"/><circle cx="129.49" cy="784.5" r="4.3"/><circle cx="136.49" cy="833.75" r="4.3"/><circle cx="143.48" cy="835.75" r="4.3"/><circle cx="150.47" cy="845" r="4.3"/><circle cx="178.44" cy="848.75" r="4.3"/><circle cx="206.42" cy="867.5" r="4.3"/><circle cx="290.33" cy="879.5" r="4.3"/><circle cx="374.25" cy="898" r="4.3"/></g>
<g fill="#808080" stroke="none"><path d="M122.5 768.75V811.25M129.49 832.5V870M136.49 847.5V877.5M143.48 858.75V878.75M150.47 830V870M178.44 872.5V887.5M206.42 845V912.5M290.33 844.5V899.5M374.25 857.5V905" stroke="#808080" stroke-width="1.7" fill="none"/><circle cx="122.5" cy="790" r="4.3"/><circle cx="129.49" cy="851.25" r="4.3"/><circle cx="136.49" cy="862.5" r="4.3"/><circle cx="143.48" cy="868.75" r="4.3"/><circle cx="150.47" cy="850" r="4.3"/><circle cx="178.44" cy="880" r="4.3"/><circle cx="206.42" cy="878.75" r="4.3"/><circle cx="290.33" cy="872" r="4.3"/><circle cx="374.25" cy="881.25" r="4.3"/></g>
<g fill="#EBA030" stroke="none"><path d="M122.5 711.25V763.75M129.49 775.5V800.5M136.49 831.25V846.25M143.48 872.5V882.5M150.47 869.5V879.5M178.44 915V927.5M206.42 938.25V968.25M290.33 1018.75V1026.25M374.25 1060.5V1065.5" stroke="#EBA030" stroke-width="1.7" fill="none"/><circle cx="122.5" cy="737.5" r="4.3"/><circle cx="129.49" cy="788" r="4.3"/><circle cx="136.49" cy="838.75" r="4.3"/><circle cx="143.48" cy="877.5" r="4.3"/><circle cx="150.47" cy="874.5" r="4.3"/><circle cx="178.44" cy="921.25" r="4.3"/><circle cx="206.42" cy="953.25" r="4.3"/><circle cx="290.33" cy="1022.5" r="4.3"/><circle cx="374.25" cy="1063" r="4.3"/></g>
<g fill="#869A45" stroke="none"><path d="M122.5 743.25V793.25M129.49 828.75V843.75M136.49 842.5V882.5M143.48 865V880M150.47 836.25V866.25M178.44 853.75V896.25M206.42 865.75V893.25M290.33 887V902M374.25 893V915.5" stroke="#869A45" stroke-width="1.7" fill="none"/><circle cx="122.5" cy="768.25" r="4.3"/><circle cx="129.49" cy="836.25" r="4.3"/><circle cx="136.49" cy="862.5" r="4.3"/><circle cx="143.48" cy="872.5" r="4.3"/><circle cx="150.47" cy="851.25" r="4.3"/><circle cx="178.44" cy="875" r="4.3"/><circle cx="206.42" cy="879.5" r="4.3"/><circle cx="290.33" cy="894.5" r="4.3"/><circle cx="374.25" cy="904.25" r="4.3"/></g>
</g>
<g id="p8">
<path d="M453 695V1081.25H730" fill="none" stroke="#000" stroke-width="1.8" stroke-linejoin="miter"/>
<text transform="translate(466.1 1101.95) scale(1.06 1)" font-size="17.5" text-anchor="middle" fill="#404040" stroke="#404040" stroke-width="0.35">0</text>
<text transform="translate(559.43 1101.95) scale(1.06 1)" font-size="17.5" text-anchor="middle" fill="#404040" stroke="#404040" stroke-width="0.35">200</text>
<text transform="translate(652.77 1101.95) scale(1.06 1)" font-size="17.5" text-anchor="middle" fill="#404040" stroke="#404040" stroke-width="0.35">400</text>
<text transform="translate(446 709.6) scale(1.06 1)" font-size="17.5" text-anchor="end" fill="#404040" stroke="#404040" stroke-width="0.35">6e+05</text>
<text transform="translate(446 829.85) scale(1.06 1)" font-size="17.5" text-anchor="end" fill="#404040" stroke="#404040" stroke-width="0.35">4e+05</text>
<text transform="translate(446 949.85) scale(1.06 1)" font-size="17.5" text-anchor="end" fill="#404040" stroke="#404040" stroke-width="0.35">2e+05</text>
<text transform="translate(446 1070.85) scale(1.06 1)" font-size="17.5" text-anchor="end" fill="#404040" stroke="#404040" stroke-width="0.35">0e+00</text>
<path d="M465.5 1082.25v4.5M558.83 1082.25v4.5M652.17 1082.25v4.5M452 703h-4.5M452 823.25h-4.5M452 943.25h-4.5M452 1064.25h-4.5" fill="none" stroke="#333" stroke-width="1.6"/>
<polyline points="465.5,782.5 472.5,793.25 479.5,841.25 486.5,857.5 493.5,839.5 521.5,940 549.5,868.75 633.5,893 717.5,903.75" fill="none" stroke="#8E1A15" stroke-width="1.9" stroke-linejoin="round"/>
<polyline points="465.5,830.75 472.5,845.5 479.5,840 486.5,848.75 493.5,830.75 521.5,854.25 549.5,868 633.5,853.75 717.5,854.25" fill="none" stroke="#808080" stroke-width="1.9" stroke-linejoin="round"/>
<polyline points="465.5,752.5 472.5,812.5 479.5,923.25 486.5,953.25 493.5,990.5 521.5,1064.25 549.5,1064.25 633.5,1064.25 717.5,1064.25" fill="none" stroke="#EBA030" stroke-width="1.9" stroke-linejoin="round"/>
<polyline points="465.5,775 472.5,812.5 479.5,838.25 486.5,846.25 493.5,853.75 521.5,878.75 549.5,887 633.5,911.75 717.5,933.25" fill="none" stroke="#869A45" stroke-width="1.9" stroke-linejoin="round"/>
<g fill="#8E1A15" stroke="none"><path d="M465.5 750V815M472.5 757V829.5M479.5 828.75V853.75M486.5 833.75V881.25M493.5 820.75V858.25M521.5 848.75V1031.25M549.5 856.25V881.25M633.5 885.5V900.5M717.5 893.75V913.75" stroke="#8E1A15" stroke-width="1.7" fill="none"/><circle cx="465.5" cy="782.5" r="4.3"/><circle cx="472.5" cy="793.25" r="4.3"/><circle cx="479.5" cy="841.25" r="4.3"/><circle cx="486.5" cy="857.5" r="4.3"/><circle cx="493.5" cy="839.5" r="4.3"/><circle cx="521.5" cy="940" r="4.3"/><circle cx="549.5" cy="868.75" r="4.3"/><circle cx="633.5" cy="893" r="4.3"/><circle cx="717.5" cy="903.75" r="4.3"/></g>
<g fill="#808080" stroke="none"><path d="M465.5 814.5V847M472.5 825.5V865.5M479.5 830V850M486.5 838.75V858.75M493.5 820.75V840.75M521.5 840.5V868M549.5 853V883M633.5 843.75V863.75M717.5 846.75V861.75" stroke="#808080" stroke-width="1.7" fill="none"/><circle cx="465.5" cy="830.75" r="4.3"/><circle cx="472.5" cy="845.5" r="4.3"/><circle cx="479.5" cy="840" r="4.3"/><circle cx="486.5" cy="848.75" r="4.3"/><circle cx="493.5" cy="830.75" r="4.3"/><circle cx="521.5" cy="854.25" r="4.3"/><circle cx="549.5" cy="868" r="4.3"/><circle cx="633.5" cy="853.75" r="4.3"/><circle cx="717.5" cy="854.25" r="4.3"/></g>
<g fill="#EBA030" stroke="none"><path d="M465.5 711.25V793.75M472.5 800V825M479.5 914.5V932M486.5 939.5V967M493.5 979.25V1001.75M521.5 1063V1065.5M549.5 1063V1065.5M633.5 1063V1065.5M717.5 1063V1065.5" stroke="#EBA030" stroke-width="1.7" fill="none"/><circle cx="465.5" cy="752.5" r="4.3"/><circle cx="472.5" cy="812.5" r="4.3"/><circle cx="479.5" cy="923.25" r="4.3"/><circle cx="486.5" cy="953.25" r="4.3"/><circle cx="493.5" cy="990.5" r="4.3"/><circle cx="521.5" cy="1064.25" r="4.3"/><circle cx="549.5" cy="1064.25" r="4.3"/><circle cx="633.5" cy="1064.25" r="4.3"/><circle cx="717.5" cy="1064.25" r="4.3"/></g>
<g fill="#869A45" stroke="none"><path d="M465.5 755V795M472.5 800V825M479.5 805.75V870.75M486.5 833.75V858.75M493.5 841.25V866.25M521.5 856.25V901.25M549.5 867V907M633.5 904.25V919.25M717.5 909.5V957" stroke="#869A45" stroke-width="1.7" fill="none"/><circle cx="465.5" cy="775" r="4.3"/><circle cx="472.5" cy="812.5" r="4.3"/><circle cx="479.5" cy="838.25" r="4.3"/><circle cx="486.5" cy="846.25" r="4.3"/><circle cx="493.5" cy="853.75" r="4.3"/><circle cx="521.5" cy="878.75" r="4.3"/><circle cx="549.5" cy="887" r="4.3"/><circle cx="633.5" cy="911.75" r="4.3"/><circle cx="717.5" cy="933.25" r="4.3"/></g>
</g>
<g id="p9">
<path d="M846.25 695V1081.25H1109.5" fill="none" stroke="#000" stroke-width="1.8" stroke-linejoin="miter"/>
<text transform="translate(858.6 1101.95) scale(1.06 1)" font-size="17.5" text-anchor="middle" fill="#404040" stroke="#404040" stroke-width="0.35">0</text>
<text transform="translate(947.3 1101.95) scale(1.06 1)" font-size="17.5" text-anchor="middle" fill="#404040" stroke="#404040" stroke-width="0.35">200</text>
<text transform="translate(1036.01 1101.95) scale(1.06 1)" font-size="17.5" text-anchor="middle" fill="#404040" stroke="#404040" stroke-width="0.35">400</text>
<text transform="translate(839.25 722.35) scale(1.06 1)" font-size="17.5" text-anchor="end" fill="#404040" stroke="#404040" stroke-width="0.35">2500000</text>
<text transform="translate(839.25 795.35) scale(1.06 1)" font-size="17.5" text-anchor="end" fill="#404040" stroke="#404040" stroke-width="0.35">2000000</text>
<text transform="translate(839.25 869.1) scale(1.06 1)" font-size="17.5" text-anchor="end" fill="#404040" stroke="#404040" stroke-width="0.35">1500000</text>
<text transform="translate(839.25 942.35) scale(1.06 1)" font-size="17.5" text-anchor="end" fill="#404040" stroke="#404040" stroke-width="0.35">1000000</text>
<text transform="translate(839.25 1015.35) scale(1.06 1)" font-size="17.5" text-anchor="end" fill="#404040" stroke="#404040" stroke-width="0.35">500000</text>
<path d="M858 1082.25v4.5M946.7 1082.25v4.5M1035.41 1082.25v4.5M845.25 715.75h-4.5M845.25 788.75h-4.5M845.25 862.5h-4.5M845.25 935.75h-4.5M845.25 1008.75h-4.5" fill="none" stroke="#333" stroke-width="1.6"/>
<polyline points="858,1058.75 864.65,1055 871.31,1040.75 877.96,1058 884.61,1046.75 911.22,1020.75 937.83,1003 1017.67,926.75 1097.5,865.5" fill="none" stroke="#8E1A15" stroke-width="1.9" stroke-linejoin="round"/>
<polyline points="858,1055.75 864.65,1059.25 871.31,1058.75 877.96,1054.5 884.61,1046.25 911.22,1029.5 937.83,1016.75 1017.67,958.75 1097.5,910" fill="none" stroke="#808080" stroke-width="1.9" stroke-linejoin="round"/>
<polyline points="858,1044.5 864.65,1039.25 871.31,1025 877.96,1011.25 884.61,991.25 911.22,929.25 937.83,864.25 1017.67,756.75 1097.5,721.75" fill="none" stroke="#EBA030" stroke-width="1.9" stroke-linejoin="round"/>
<polyline points="858,1050.5 864.65,1056.25 871.31,1056.75 877.96,1055 884.61,1048.25 911.22,1028.75 937.83,1010 1017.67,933.75 1097.5,877" fill="none" stroke="#869A45" stroke-width="1.9" stroke-linejoin="round"/>
<g fill="#8E1A15" stroke="none"><path d="M858 1052.5V1065M864.65 1050V1060M871.31 1022V1059.5M877.96 1053V1063M884.61 1043V1050.5M911.22 1014.5V1027M937.83 999.25V1006.75M1017.67 920.5V933M1097.5 858V873" stroke="#8E1A15" stroke-width="1.7" fill="none"/><circle cx="858" cy="1058.75" r="4.3"/><circle cx="864.65" cy="1055" r="4.3"/><circle cx="871.31" cy="1040.75" r="4.3"/><circle cx="877.96" cy="1058" r="4.3"/><circle cx="884.61" cy="1046.75" r="4.3"/><circle cx="911.22" cy="1020.75" r="4.3"/><circle cx="937.83" cy="1003" r="4.3"/><circle cx="1017.67" cy="926.75" r="4.3"/><circle cx="1097.5" cy="865.5" r="4.3"/></g>
<g fill="#808080" stroke="none"><path d="M858 1050.75V1060.75M864.65 1055.5V1063M871.31 1053.75V1063.75M877.96 1047V1062M884.61 1042.5V1050M911.22 1025.75V1033.25M937.83 1013V1020.5M1017.67 955V962.5M1097.5 896.25V923.75" stroke="#808080" stroke-width="1.7" fill="none"/><circle cx="858" cy="1055.75" r="4.3"/><circle cx="864.65" cy="1059.25" r="4.3"/><circle cx="871.31" cy="1058.75" r="4.3"/><circle cx="877.96" cy="1054.5" r="4.3"/><circle cx="884.61" cy="1046.25" r="4.3"/><circle cx="911.22" cy="1029.5" r="4.3"/><circle cx="937.83" cy="1016.75" r="4.3"/><circle cx="1017.67" cy="958.75" r="4.3"/><circle cx="1097.5" cy="910" r="4.3"/></g>
<g fill="#EBA030" stroke="none"><path d="M858 1039.5V1049.5M864.65 1035.5V1043M871.31 1020V1030M877.96 1007.5V1015M884.61 987.5V995M911.22 920.5V938M937.83 854.25V874.25M1017.67 744.25V769.25M1097.5 711.75V731.75" stroke="#EBA030" stroke-width="1.7" fill="none"/><circle cx="858" cy="1044.5" r="4.3"/><circle cx="864.65" cy="1039.25" r="4.3"/><circle cx="871.31" cy="1025" r="4.3"/><circle cx="877.96" cy="1011.25" r="4.3"/><circle cx="884.61" cy="991.25" r="4.3"/><circle cx="911.22" cy="929.25" r="4.3"/><circle cx="937.83" cy="864.25" r="4.3"/><circle cx="1017.67" cy="756.75" r="4.3"/><circle cx="1097.5" cy="721.75" r="4.3"/></g>
<g fill="#869A45" stroke="none"><path d="M858 1043V1058M864.65 1052.5V1060M871.31 1053V1060.5M877.96 1051.25V1058.75M884.61 1044.5V1052M911.22 1025V1032.5M937.83 1003.75V1016.25M1017.67 916.25V951.25M1097.5 869.5V884.5" stroke="#869A45" stroke-width="1.7" fill="none"/><circle cx="858" cy="1050.5" r="4.3"/><circle cx="864.65" cy="1056.25" r="4.3"/><circle cx="871.31" cy="1056.75" r="4.3"/><circle cx="877.96" cy="1055" r="4.3"/><circle cx="884.61" cy="1048.25" r="4.3"/><circle cx="911.22" cy="1028.75" r="4.3"/><circle cx="937.83" cy="1010" r="4.3"/><circle cx="1017.67" cy="933.75" r="4.3"/><circle cx="1097.5" cy="877" r="4.3"/></g>
</g>
<g id="p10">
<path d="M1183.75 695V1081.25H1448" fill="none" stroke="#000" stroke-width="1.8" stroke-linejoin="miter"/>
<text transform="translate(1196.35 1101.95) scale(1.06 1)" font-size="17.5" text-anchor="middle" fill="#404040" stroke="#404040" stroke-width="0.35">0</text>
<text transform="translate(1285.24 1101.95) scale(1.06 1)" font-size="17.5" text-anchor="middle" fill="#404040" stroke="#404040" stroke-width="0.35">200</text>
<text transform="translate(1374.13 1101.95) scale(1.06 1)" font-size="17.5" text-anchor="middle" fill="#404040" stroke="#404040" stroke-width="0.35">400</text>
<text transform="translate(1176.75 742.85) scale(1.06 1)" font-size="17.5" text-anchor="end" fill="#404040" stroke="#404040" stroke-width="0.35">150000</text>
<text transform="translate(1176.75 848.6) scale(1.06 1)" font-size="17.5" text-anchor="end" fill="#404040" stroke="#404040" stroke-width="0.35">100000</text>
<text transform="translate(1176.75 954.1) scale(1.06 1)" font-size="17.5" text-anchor="end" fill="#404040" stroke="#404040" stroke-width="0.35">50000</text>
<text transform="translate(1176.75 1060.35) scale(1.06 1)" font-size="17.5" text-anchor="end" fill="#404040" stroke="#404040" stroke-width="0.35">0</text>
<path d="M1195.75 1082.25v4.5M1284.64 1082.25v4.5M1373.53 1082.25v4.5M1182.75 736.25h-4.5M1182.75 842h-4.5M1182.75 947.5h-4.5M1182.75 1053.75h-4.5" fill="none" stroke="#333" stroke-width="1.6"/>
<polyline points="1195.75,1039.5 1202.42,1027.5 1209.08,1025.75 1215.75,1003 1222.42,996.25 1249.08,970.5 1275.75,927.5 1355.75,814.25 1435.75,728" fill="none" stroke="#8E1A15" stroke-width="1.9" stroke-linejoin="round"/>
<polyline points="1195.75,1030 1202.42,1013.75 1209.08,991.25 1215.75,1002.5 1222.42,1002.5 1249.08,968 1275.75,942.5 1355.75,845.5 1435.75,769.5" fill="none" stroke="#808080" stroke-width="1.9" stroke-linejoin="round"/>
<polyline points="1195.75,1002.5 1202.42,965 1209.08,908.75 1215.75,888.25 1222.42,857 1249.08,921.25 1275.75,981.25 1355.75,1024.25 1435.75,1016.75" fill="none" stroke="#EBA030" stroke-width="1.9" stroke-linejoin="round"/>
<polyline points="1195.75,1029.25 1202.42,1030.5 1209.08,1053.75 1215.75,1007.5 1222.42,1009.5 1249.08,991.25 1275.75,951.75 1355.75,864.25 1435.75,767.5" fill="none" stroke="#869A45" stroke-width="1.9" stroke-linejoin="round"/>
<g fill="#8E1A15" stroke="none"><path d="M1195.75 1014.5V1064.5M1202.42 1002.5V1052.5M1209.08 1018.25V1033.25M1215.75 995.5V1010.5M1222.42 991.25V1001.25M1249.08 960.5V980.5M1275.75 915V940M1355.75 805.5V823M1435.75 711.75V744.25" stroke="#8E1A15" stroke-width="1.7" fill="none"/><circle cx="1195.75" cy="1039.5" r="4.3"/><circle cx="1202.42" cy="1027.5" r="4.3"/><circle cx="1209.08" cy="1025.75" r="4.3"/><circle cx="1215.75" cy="1003" r="4.3"/><circle cx="1222.42" cy="996.25" r="4.3"/><circle cx="1249.08" cy="970.5" r="4.3"/><circle cx="1275.75" cy="927.5" r="4.3"/><circle cx="1355.75" cy="814.25" r="4.3"/><circle cx="1435.75" cy="728" r="4.3"/></g>
<g fill="#808080" stroke="none"><path d="M1195.75 1022.5V1037.5M1202.42 1003.75V1023.75M1209.08 945V1037.5M1215.75 990V1015M1222.42 997.5V1007.5M1249.08 954.25V981.75M1275.75 932.5V952.5M1355.75 826.75V864.25M1435.75 755.75V783.25" stroke="#808080" stroke-width="1.7" fill="none"/><circle cx="1195.75" cy="1030" r="4.3"/><circle cx="1202.42" cy="1013.75" r="4.3"/><circle cx="1209.08" cy="991.25" r="4.3"/><circle cx="1215.75" cy="1002.5" r="4.3"/><circle cx="1222.42" cy="1002.5" r="4.3"/><circle cx="1249.08" cy="968" r="4.3"/><circle cx="1275.75" cy="942.5" r="4.3"/><circle cx="1355.75" cy="845.5" r="4.3"/><circle cx="1435.75" cy="769.5" r="4.3"/></g>
<g fill="#EBA030" stroke="none"><path d="M1195.75 993.75V1011.25M1202.42 958.75V971.25M1209.08 902.5V915M1215.75 883.25V893.25M1222.42 840.75V873.25M1249.08 903.75V938.75M1275.75 972.5V990M1355.75 998V1050.5M1435.75 1013V1020.5" stroke="#EBA030" stroke-width="1.7" fill="none"/><circle cx="1195.75" cy="1002.5" r="4.3"/><circle cx="1202.42" cy="965" r="4.3"/><circle cx="1209.08" cy="908.75" r="4.3"/><circle cx="1215.75" cy="888.25" r="4.3"/><circle cx="1222.42" cy="857" r="4.3"/><circle cx="1249.08" cy="921.25" r="4.3"/><circle cx="1275.75" cy="981.25" r="4.3"/><circle cx="1355.75" cy="1024.25" r="4.3"/><circle cx="1435.75" cy="1016.75" r="4.3"/></g>
<g fill="#869A45" stroke="none"><path d="M1195.75 1005.5V1053M1202.42 1009.25V1051.75M1209.08 1051.25V1056.25M1215.75 1002.5V1012.5M1222.42 1005.75V1013.25M1249.08 987.5V995M1275.75 938V965.5M1355.75 844.25V884.25M1435.75 743.75V791.25" stroke="#869A45" stroke-width="1.7" fill="none"/><circle cx="1195.75" cy="1029.25" r="4.3"/><circle cx="1202.42" cy="1030.5" r="4.3"/><circle cx="1209.08" cy="1053.75" r="4.3"/><circle cx="1215.75" cy="1007.5" r="4.3"/><circle cx="1222.42" cy="1009.5" r="4.3"/><circle cx="1249.08" cy="991.25" r="4.3"/><circle cx="1275.75" cy="951.75" r="4.3"/><circle cx="1355.75" cy="864.25" r="4.3"/><circle cx="1435.75" cy="767.5" r="4.3"/></g>
</g>
<g id="p11">
<path d="M1563 695V1081.25H1831.25" fill="none" stroke="#000" stroke-width="1.8" stroke-linejoin="miter"/>
<text transform="translate(1575.6 1101.95) scale(1.06 1)" font-size="17.5" text-anchor="middle" fill="#404040" stroke="#404040" stroke-width="0.35">0</text>
<text transform="translate(1665.88 1101.95) scale(1.06 1)" font-size="17.5" text-anchor="middle" fill="#404040" stroke="#404040" stroke-width="0.35">200</text>
<text transform="translate(1756.16 1101.95) scale(1.06 1)" font-size="17.5" text-anchor="middle" fill="#404040" stroke="#404040" stroke-width="0.35">400</text>
<text transform="translate(1556 709.1) scale(1.06 1)" font-size="17.5" text-anchor="end" fill="#404040" stroke="#404040" stroke-width="0.35">1250000</text>
<text transform="translate(1556 780.85) scale(1.06 1)" font-size="17.5" text-anchor="end" fill="#404040" stroke="#404040" stroke-width="0.35">1000000</text>
<text transform="translate(1556 853.35) scale(1.06 1)" font-size="17.5" text-anchor="end" fill="#404040" stroke="#404040" stroke-width="0.35">750000</text>
<text transform="translate(1556 925.35) scale(1.06 1)" font-size="17.5" text-anchor="end" fill="#404040" stroke="#404040" stroke-width="0.35">500000</text>
<text transform="translate(1556 997.35) scale(1.06 1)" font-size="17.5" text-anchor="end" fill="#404040" stroke="#404040" stroke-width="0.35">250000</text>
<text transform="translate(1556 1069.6) scale(1.06 1)" font-size="17.5" text-anchor="end" fill="#404040" stroke="#404040" stroke-width="0.35">0</text>
<path d="M1575 1082.25v4.5M1665.28 1082.25v4.5M1755.56 1082.25v4.5M1562 702.5h-4.5M1562 774.25h-4.5M1562 846.75h-4.5M1562 918.75h-4.5M1562 990.75h-4.5M1562 1063h-4.5" fill="none" stroke="#333" stroke-width="1.6"/>
<polyline points="1575,1063 1581.77,1063 1588.54,1063 1595.31,1063 1602.08,1063 1629.17,1063 1656.25,1063 1737.5,1063 1818.75,1063" fill="none" stroke="#8E1A15" stroke-width="1.9" stroke-linejoin="round"/>
<polyline points="1575,1063 1581.77,1063 1588.54,1063 1595.31,1063 1602.08,1063 1629.17,1063 1656.25,1063 1737.5,1063 1818.75,1063" fill="none" stroke="#808080" stroke-width="1.9" stroke-linejoin="round"/>
<polyline points="1575,1063 1581.77,1061.75 1588.54,1050 1595.31,1045 1602.08,1034.5 1629.17,1006.75 1656.25,981.25 1737.5,856.75 1818.75,745.5" fill="none" stroke="#EBA030" stroke-width="1.9" stroke-linejoin="round"/>
<polyline points="1575,1063 1581.77,1063 1588.54,1063 1595.31,1063 1602.08,1063 1629.17,1063 1656.25,1063 1737.5,1063 1818.75,1063" fill="none" stroke="#869A45" stroke-width="1.9" stroke-linejoin="round"/>
<g fill="#8E1A15" stroke="none"><path d="" stroke="#8E1A15" stroke-width="1.7" fill="none"/><circle cx="1575" cy="1063" r="4.3"/><circle cx="1581.77" cy="1063" r="4.3"/><circle cx="1588.54" cy="1063" r="4.3"/><circle cx="1595.31" cy="1063" r="4.3"/><circle cx="1602.08" cy="1063" r="4.3"/><circle cx="1629.17" cy="1063" r="4.3"/><circle cx="1656.25" cy="1063" r="4.3"/><circle cx="1737.5" cy="1063" r="4.3"/><circle cx="1818.75" cy="1063" r="4.3"/></g>
<g fill="#808080" stroke="none"><path d="" stroke="#808080" stroke-width="1.7" fill="none"/><circle cx="1575" cy="1063" r="4.3"/><circle cx="1581.77" cy="1063" r="4.3"/><circle cx="1588.54" cy="1063" r="4.3"/><circle cx="1595.31" cy="1063" r="4.3"/><circle cx="1602.08" cy="1063" r="4.3"/><circle cx="1629.17" cy="1063" r="4.3"/><circle cx="1656.25" cy="1063" r="4.3"/><circle cx="1737.5" cy="1063" r="4.3"/><circle cx="1818.75" cy="1063" r="4.3"/></g>
<g fill="#EBA030" stroke="none"><path d="M1575 1061.75V1064.25M1581.77 1059.25V1064.25M1588.54 1046.25V1053.75M1595.31 1041.25V1048.75M1602.08 1030.75V1038.25M1629.17 999.25V1014.25M1656.25 966.25V996.25M1737.5 853V860.5M1818.75 711.75V779.25" stroke="#EBA030" stroke-width="1.7" fill="none"/><circle cx="1575" cy="1063" r="4.3"/><circle cx="1581.77" cy="1061.75" r="4.3"/><circle cx="1588.54" cy="1050" r="4.3"/><circle cx="1595.31" cy="1045" r="4.3"/><circle cx="1602.08" cy="1034.5" r="4.3"/><circle cx="1629.17" cy="1006.75" r="4.3"/><circle cx="1656.25" cy="981.25" r="4.3"/><circle cx="1737.5" cy="856.75" r="4.3"/><circle cx="1818.75" cy="745.5" r="4.3"/></g>
<g fill="#869A45" stroke="none"><path d="" stroke="#869A45" stroke-width="1.7" fill="none"/><circle cx="1575" cy="1063" r="4.3"/><circle cx="1581.77" cy="1063" r="4.3"/><circle cx="1588.54" cy="1063" r="4.3"/><circle cx="1595.31" cy="1063" r="4.3"/><circle cx="1602.08" cy="1063" r="4.3"/><circle cx="1629.17" cy="1063" r="4.3"/><circle cx="1656.25" cy="1063" r="4.3"/><circle cx="1737.5" cy="1063" r="4.3"/><circle cx="1818.75" cy="1063" r="4.3"/></g>
</g>
<g id="p12">
<path d="M1897 695V1081.25H2164.5" fill="none" stroke="#000" stroke-width="1.8" stroke-linejoin="miter"/>
<text transform="translate(1910.1 1101.95) scale(1.06 1)" font-size="17.5" text-anchor="middle" fill="#404040" stroke="#404040" stroke-width="0.35">0</text>
<text transform="translate(2000.19 1101.95) scale(1.06 1)" font-size="17.5" text-anchor="middle" fill="#404040" stroke="#404040" stroke-width="0.35">200</text>
<text transform="translate(2090.29 1101.95) scale(1.06 1)" font-size="17.5" text-anchor="middle" fill="#404040" stroke="#404040" stroke-width="0.35">400</text>
<text transform="translate(1890 702.85) scale(1.06 1)" font-size="17.5" text-anchor="end" fill="#404040" stroke="#404040" stroke-width="0.35">3e+05</text>
<text transform="translate(1890 825.35) scale(1.06 1)" font-size="17.5" text-anchor="end" fill="#404040" stroke="#404040" stroke-width="0.35">2e+05</text>
<text transform="translate(1890 947.85) scale(1.06 1)" font-size="17.5" text-anchor="end" fill="#404040" stroke="#404040" stroke-width="0.35">1e+05</text>
<text transform="translate(1890 1070.85) scale(1.06 1)" font-size="17.5" text-anchor="end" fill="#404040" stroke="#404040" stroke-width="0.35">0e+00</text>
<path d="M1909.5 1082.25v4.5M1999.59 1082.25v4.5M2089.69 1082.25v4.5M1896 696.25h-4.5M1896 818.75h-4.5M1896 941.25h-4.5M1896 1064.25h-4.5" fill="none" stroke="#333" stroke-width="1.6"/>
<polyline points="1909.5,1064.25 1916.26,1064.25 1923.01,1064.25 1929.77,1064.25 1936.53,1064.25 1963.56,1064.25 1990.58,1064.25 2071.67,1064.25 2152.75,1064.25" fill="none" stroke="#8E1A15" stroke-width="1.9" stroke-linejoin="round"/>
<polyline points="1909.5,1064.25 1916.26,1064.25 1923.01,1064.25 1929.77,1064.25 1936.53,1064.25 1963.56,1064.25 1990.58,1064.25 2071.67,1064.25 2152.75,1064.25" fill="none" stroke="#808080" stroke-width="1.9" stroke-linejoin="round"/>
<polyline points="1909.5,1064.25 1916.26,1050 1923.01,991.25 1929.77,963.75 1936.53,944.5 1963.56,835.5 1990.58,781.75 2071.67,742.5 2152.75,733.75" fill="none" stroke="#EBA030" stroke-width="1.9" stroke-linejoin="round"/>
<polyline points="1909.5,1064.25 1916.26,1064.25 1923.01,1064.25 1929.77,1064.25 1936.53,1064.25 1963.56,1064.25 1990.58,1064.25 2071.67,1064.25 2152.75,1064.25" fill="none" stroke="#869A45" stroke-width="1.9" stroke-linejoin="round"/>
<g fill="#8E1A15" stroke="none"><path d="" stroke="#8E1A15" stroke-width="1.7" fill="none"/><circle cx="1909.5" cy="1064.25" r="4.3"/><circle cx="1916.26" cy="1064.25" r="4.3"/><circle cx="1923.01" cy="1064.25" r="4.3"/><circle cx="1929.77" cy="1064.25" r="4.3"/><circle cx="1936.53" cy="1064.25" r="4.3"/><circle cx="1963.56" cy="1064.25" r="4.3"/><circle cx="1990.58" cy="1064.25" r="4.3"/><circle cx="2071.67" cy="1064.25" r="4.3"/><circle cx="2152.75" cy="1064.25" r="4.3"/></g>
<g fill="#808080" stroke="none"><path d="" stroke="#808080" stroke-width="1.7" fill="none"/><circle cx="1909.5" cy="1064.25" r="4.3"/><circle cx="1916.26" cy="1064.25" r="4.3"/><circle cx="1923.01" cy="1064.25" r="4.3"/><circle cx="1929.77" cy="1064.25" r="4.3"/><circle cx="1936.53" cy="1064.25" r="4.3"/><circle cx="1963.56" cy="1064.25" r="4.3"/><circle cx="1990.58" cy="1064.25" r="4.3"/><circle cx="2071.67" cy="1064.25" r="4.3"/><circle cx="2152.75" cy="1064.25" r="4.3"/></g>
<g fill="#EBA030" stroke="none"><path d="M1909.5 1063V1065.5M1916.26 1037.5V1062.5M1923.01 983.75V998.75M1929.77 955V972.5M1936.53 938.25V950.75M1963.56 821.75V849.25M1990.58 756.75V806.75M2071.67 711.25V773.75M2152.75 715.75V751.75" stroke="#EBA030" stroke-width="1.7" fill="none"/><circle cx="1909.5" cy="1064.25" r="4.3"/><circle cx="1916.26" cy="1050" r="4.3"/><circle cx="1923.01" cy="991.25" r="4.3"/><circle cx="1929.77" cy="963.75" r="4.3"/><circle cx="1936.53" cy="944.5" r="4.3"/><circle cx="1963.56" cy="835.5" r="4.3"/><circle cx="1990.58" cy="781.75" r="4.3"/><circle cx="2071.67" cy="742.5" r="4.3"/><circle cx="2152.75" cy="733.75" r="4.3"/></g>
<g fill="#869A45" stroke="none"><path d="" stroke="#869A45" stroke-width="1.7" fill="none"/><circle cx="1909.5" cy="1064.25" r="4.3"/><circle cx="1916.26" cy="1064.25" r="4.3"/><circle cx="1923.01" cy="1064.25" r="4.3"/><circle cx="1929.77" cy="1064.25" r="4.3"/><circle cx="1936.53" cy="1064.25" r="4.3"/><circle cx="1963.56" cy="1064.25" r="4.3"/><circle cx="1990.58" cy="1064.25" r="4.3"/><circle cx="2071.67" cy="1064.25" r="4.3"/><circle cx="2152.75" cy="1064.25" r="4.3"/></g>
</g>
<g id="p13">
<path d="M122 1308V1665.75H394.5" fill="none" stroke="#000" stroke-width="1.8" stroke-linejoin="miter"/>
<text transform="translate(134.85 1686.45) scale(1.06 1)" font-size="17.5" text-anchor="middle" fill="#404040" stroke="#404040" stroke-width="0.35">0</text>
<text transform="translate(226.79 1686.45) scale(1.06 1)" font-size="17.5" text-anchor="middle" fill="#404040" stroke="#404040" stroke-width="0.35">200</text>
<text transform="translate(318.74 1686.45) scale(1.06 1)" font-size="17.5" text-anchor="middle" fill="#404040" stroke="#404040" stroke-width="0.35">400</text>
<text transform="translate(115 1341.1) scale(1.06 1)" font-size="17.5" text-anchor="end" fill="#404040" stroke="#404040" stroke-width="0.35">3e+07</text>
<text transform="translate(115 1457.85) scale(1.06 1)" font-size="17.5" text-anchor="end" fill="#404040" stroke="#404040" stroke-width="0.35">2e+07</text>
<text transform="translate(115 1574.1) scale(1.06 1)" font-size="17.5" text-anchor="end" fill="#404040" stroke="#404040" stroke-width="0.35">1e+07</text>
<path d="M134.25 1666.75v4.5M226.19 1666.75v4.5M318.14 1666.75v4.5M121 1334.5h-4.5M121 1451.25h-4.5M121 1567.5h-4.5" fill="none" stroke="#333" stroke-width="1.6"/>
<polyline points="134.25,1334.5 141.15,1402 148.04,1439.5 154.94,1453.75 161.83,1457.5 189.42,1466.25 217,1455.75 299.75,1432.5 382.5,1457.5" fill="none" stroke="#8E1A15" stroke-width="1.9" stroke-linejoin="round"/>
<polyline points="134.25,1386.25 141.15,1463.75 148.04,1492 154.94,1497.5 161.83,1498 189.42,1491.25 217,1486.25 299.75,1465 382.5,1493.75" fill="none" stroke="#808080" stroke-width="1.9" stroke-linejoin="round"/>
<polyline points="134.25,1401.25 141.15,1407.5 148.04,1470.5 154.94,1492.5 161.83,1492.5 189.42,1500.5 217,1506.75 299.75,1558.75 382.5,1647.5" fill="none" stroke="#EBA030" stroke-width="1.9" stroke-linejoin="round"/>
<polyline points="134.25,1386.75 148.04,1487.5 154.94,1501.25 161.83,1508 189.42,1501.25 217,1487.5 299.75,1489.5 382.5,1493.25" fill="none" stroke="#869A45" stroke-width="1.9" stroke-linejoin="round"/>
<g fill="#8E1A15" stroke="none"><path d="M134.25 1332V1337M141.15 1362V1442M148.04 1420.75V1458.25M154.94 1438.75V1468.75M161.83 1442.5V1472.5M189.42 1447.5V1485M217 1448.25V1463.25M299.75 1413.75V1451.25M382.5 1431.25V1483.75" stroke="#8E1A15" stroke-width="1.7" fill="none"/><circle cx="134.25" cy="1334.5" r="4.3"/><circle cx="141.15" cy="1402" r="4.3"/><circle cx="148.04" cy="1439.5" r="4.3"/><circle cx="154.94" cy="1453.75" r="4.3"/><circle cx="161.83" cy="1457.5" r="4.3"/><circle cx="189.42" cy="1466.25" r="4.3"/><circle cx="217" cy="1455.75" r="4.3"/><circle cx="299.75" cy="1432.5" r="4.3"/><circle cx="382.5" cy="1457.5" r="4.3"/></g>
<g fill="#808080" stroke="none"><path d="M134.25 1378.75V1393.75M141.15 1442.5V1485M148.04 1480.75V1503.25M154.94 1487.5V1507.5M161.83 1489.25V1506.75M189.42 1476.25V1506.25M217 1476.25V1496.25M299.75 1450V1480M382.5 1481.25V1506.25" stroke="#808080" stroke-width="1.7" fill="none"/><circle cx="134.25" cy="1386.25" r="4.3"/><circle cx="141.15" cy="1463.75" r="4.3"/><circle cx="148.04" cy="1492" r="4.3"/><circle cx="154.94" cy="1497.5" r="4.3"/><circle cx="161.83" cy="1498" r="4.3"/><circle cx="189.42" cy="1491.25" r="4.3"/><circle cx="217" cy="1486.25" r="4.3"/><circle cx="299.75" cy="1465" r="4.3"/><circle cx="382.5" cy="1493.75" r="4.3"/></g>
<g fill="#EBA030" stroke="none"><path d="M134.25 1323.75V1478.75M141.15 1395V1420M148.04 1463V1478M154.94 1487.5V1497.5M161.83 1487.5V1497.5M189.42 1495.5V1505.5M217 1499.25V1514.25M299.75 1546.25V1571.25M382.5 1645V1650" stroke="#EBA030" stroke-width="1.7" fill="none"/><circle cx="134.25" cy="1401.25" r="4.3"/><circle cx="141.15" cy="1407.5" r="4.3"/><circle cx="148.04" cy="1470.5" r="4.3"/><circle cx="154.94" cy="1492.5" r="4.3"/><circle cx="161.83" cy="1492.5" r="4.3"/><circle cx="189.42" cy="1500.5" r="4.3"/><circle cx="217" cy="1506.75" r="4.3"/><circle cx="299.75" cy="1558.75" r="4.3"/><circle cx="382.5" cy="1647.5" r="4.3"/></g>
<g fill="#869A45" stroke="none"><path d="M134.25 1376.75V1396.75M148.04 1472.5V1502.5M154.94 1491.25V1511.25M161.83 1495.5V1520.5M189.42 1480V1522.5M217 1472.5V1502.5M299.75 1480.75V1498.25M382.5 1480.75V1505.75" stroke="#869A45" stroke-width="1.7" fill="none"/><circle cx="134.25" cy="1386.75" r="4.3"/><circle cx="148.04" cy="1487.5" r="4.3"/><circle cx="154.94" cy="1501.25" r="4.3"/><circle cx="161.83" cy="1508" r="4.3"/><circle cx="189.42" cy="1501.25" r="4.3"/><circle cx="217" cy="1487.5" r="4.3"/><circle cx="299.75" cy="1489.5" r="4.3"/><circle cx="382.5" cy="1493.25" r="4.3"/></g>
</g>
<g id="p14">
<path d="M459.5 1308V1665.75H732.5" fill="none" stroke="#000" stroke-width="1.8" stroke-linejoin="miter"/>
<text transform="translate(472.6 1686.45) scale(1.06 1)" font-size="17.5" text-anchor="middle" fill="#404040" stroke="#404040" stroke-width="0.35">0</text>
<text transform="translate(564.73 1686.45) scale(1.06 1)" font-size="17.5" text-anchor="middle" fill="#404040" stroke="#404040" stroke-width="0.35">200</text>
<text transform="translate(656.86 1686.45) scale(1.06 1)" font-size="17.5" text-anchor="middle" fill="#404040" stroke="#404040" stroke-width="0.35">400</text>
<text transform="translate(452.5 1362.85) scale(1.06 1)" font-size="17.5" text-anchor="end" fill="#404040" stroke="#404040" stroke-width="0.35">3e+06</text>
<text transform="translate(452.5 1462.85) scale(1.06 1)" font-size="17.5" text-anchor="end" fill="#404040" stroke="#404040" stroke-width="0.35">2e+06</text>
<text transform="translate(452.5 1562.35) scale(1.06 1)" font-size="17.5" text-anchor="end" fill="#404040" stroke="#404040" stroke-width="0.35">1e+06</text>
<text transform="translate(452.5 1661.6) scale(1.06 1)" font-size="17.5" text-anchor="end" fill="#404040" stroke="#404040" stroke-width="0.35">0e+00</text>
<path d="M472 1666.75v4.5M564.13 1666.75v4.5M656.26 1666.75v4.5M458.5 1356.25h-4.5M458.5 1456.25h-4.5M458.5 1555.75h-4.5M458.5 1655h-4.5" fill="none" stroke="#333" stroke-width="1.6"/>
<polyline points="472,1340.75 478.91,1447.5 485.82,1471.25 492.73,1488.25 499.64,1505.5 527.28,1506.25 554.92,1488.75 637.83,1563.75 720.75,1499.5" fill="none" stroke="#8E1A15" stroke-width="1.9" stroke-linejoin="round"/>
<polyline points="472,1378 478.91,1462 485.82,1482.5 492.73,1487.5 499.64,1498 527.28,1500 554.92,1497.5 637.83,1470 720.75,1500.5" fill="none" stroke="#808080" stroke-width="1.9" stroke-linejoin="round"/>
<polyline points="472,1360.5 478.91,1438 485.82,1497 492.73,1515.5 499.64,1530 527.28,1542.5 554.92,1557.5 637.83,1625 720.75,1648.75" fill="none" stroke="#EBA030" stroke-width="1.9" stroke-linejoin="round"/>
<polyline points="472,1396.25 478.91,1455 485.82,1509.5 492.73,1505 499.64,1517.5 527.28,1515.5 554.92,1501.25 637.83,1494.5 720.75,1508.75" fill="none" stroke="#869A45" stroke-width="1.9" stroke-linejoin="round"/>
<g fill="#8E1A15" stroke="none"><path d="M472 1323.25V1358.25M478.91 1432.5V1462.5M485.82 1458.75V1483.75M492.73 1475.75V1500.75M499.64 1498V1513M527.28 1498.75V1513.75M554.92 1481.25V1496.25M637.83 1481.25V1646.25M720.75 1494.5V1504.5" stroke="#8E1A15" stroke-width="1.7" fill="none"/><circle cx="472" cy="1340.75" r="4.3"/><circle cx="478.91" cy="1447.5" r="4.3"/><circle cx="485.82" cy="1471.25" r="4.3"/><circle cx="492.73" cy="1488.25" r="4.3"/><circle cx="499.64" cy="1505.5" r="4.3"/><circle cx="527.28" cy="1506.25" r="4.3"/><circle cx="554.92" cy="1488.75" r="4.3"/><circle cx="637.83" cy="1563.75" r="4.3"/><circle cx="720.75" cy="1499.5" r="4.3"/></g>
<g fill="#808080" stroke="none"><path d="M472 1370.5V1385.5M478.91 1452V1472M485.82 1470V1495M492.73 1476.25V1498.75M499.64 1484.25V1511.75M527.28 1481.25V1518.75M554.92 1487.5V1507.5M637.83 1445V1495M720.75 1488V1513" stroke="#808080" stroke-width="1.7" fill="none"/><circle cx="472" cy="1378" r="4.3"/><circle cx="478.91" cy="1462" r="4.3"/><circle cx="485.82" cy="1482.5" r="4.3"/><circle cx="492.73" cy="1487.5" r="4.3"/><circle cx="499.64" cy="1498" r="4.3"/><circle cx="527.28" cy="1500" r="4.3"/><circle cx="554.92" cy="1497.5" r="4.3"/><circle cx="637.83" cy="1470" r="4.3"/><circle cx="720.75" cy="1500.5" r="4.3"/></g>
<g fill="#EBA030" stroke="none"><path d="M472 1333V1388M478.91 1425.5V1450.5M485.82 1484.5V1509.5M492.73 1503V1528M499.64 1521.25V1538.75M527.28 1536.25V1548.75M554.92 1551.25V1563.75M637.83 1620V1630M720.75 1646.25V1651.25" stroke="#EBA030" stroke-width="1.7" fill="none"/><circle cx="472" cy="1360.5" r="4.3"/><circle cx="478.91" cy="1438" r="4.3"/><circle cx="485.82" cy="1497" r="4.3"/><circle cx="492.73" cy="1515.5" r="4.3"/><circle cx="499.64" cy="1530" r="4.3"/><circle cx="527.28" cy="1542.5" r="4.3"/><circle cx="554.92" cy="1557.5" r="4.3"/><circle cx="637.83" cy="1625" r="4.3"/><circle cx="720.75" cy="1648.75" r="4.3"/></g>
<g fill="#869A45" stroke="none"><path d="M472 1366.25V1426.25M478.91 1422.5V1487.5M485.82 1465.75V1553.25M492.73 1490V1520M499.64 1505V1530M527.28 1503V1528M554.92 1482.5V1520M637.83 1469.5V1519.5M720.75 1495V1522.5" stroke="#869A45" stroke-width="1.7" fill="none"/><circle cx="472" cy="1396.25" r="4.3"/><circle cx="478.91" cy="1455" r="4.3"/><circle cx="485.82" cy="1509.5" r="4.3"/><circle cx="492.73" cy="1505" r="4.3"/><circle cx="499.64" cy="1517.5" r="4.3"/><circle cx="527.28" cy="1515.5" r="4.3"/><circle cx="554.92" cy="1501.25" r="4.3"/><circle cx="637.83" cy="1494.5" r="4.3"/><circle cx="720.75" cy="1508.75" r="4.3"/></g>
</g>
<g id="p15">
<path d="M828.75 1308V1665.75H1100" fill="none" stroke="#000" stroke-width="1.8" stroke-linejoin="miter"/>
<text transform="translate(841.35 1686.45) scale(1.06 1)" font-size="17.5" text-anchor="middle" fill="#404040" stroke="#404040" stroke-width="0.35">0</text>
<text transform="translate(932.74 1686.45) scale(1.06 1)" font-size="17.5" text-anchor="middle" fill="#404040" stroke="#404040" stroke-width="0.35">200</text>
<text transform="translate(1024.13 1686.45) scale(1.06 1)" font-size="17.5" text-anchor="middle" fill="#404040" stroke="#404040" stroke-width="0.35">400</text>
<text transform="translate(821.75 1385.35) scale(1.06 1)" font-size="17.5" text-anchor="end" fill="#404040" stroke="#404040" stroke-width="0.35">3e+05</text>
<text transform="translate(821.75 1475.35) scale(1.06 1)" font-size="17.5" text-anchor="end" fill="#404040" stroke="#404040" stroke-width="0.35">2e+05</text>
<text transform="translate(821.75 1565.35) scale(1.06 1)" font-size="17.5" text-anchor="end" fill="#404040" stroke="#404040" stroke-width="0.35">1e+05</text>
<text transform="translate(821.75 1655.35) scale(1.06 1)" font-size="17.5" text-anchor="end" fill="#404040" stroke="#404040" stroke-width="0.35">0e+00</text>
<path d="M840.75 1666.75v4.5M932.14 1666.75v4.5M1023.53 1666.75v4.5M827.75 1378.75h-4.5M827.75 1468.75h-4.5M827.75 1558.75h-4.5M827.75 1648.75h-4.5" fill="none" stroke="#333" stroke-width="1.6"/>
<polyline points="840.75,1384.5 847.6,1451.75 854.46,1501.25 861.31,1503.25 868.17,1501.75 895.58,1499.25 923,1480.75 1005.25,1380.75 1087.5,1386.25" fill="none" stroke="#8E1A15" stroke-width="1.9" stroke-linejoin="round"/>
<polyline points="840.75,1441.75 847.6,1496.25 854.46,1522 861.31,1520 868.17,1532.5 895.58,1513.75 923,1497.5 1005.25,1381.25 1087.5,1400" fill="none" stroke="#808080" stroke-width="1.9" stroke-linejoin="round"/>
<polyline points="840.75,1433.75 847.6,1456.25 854.46,1518.75 861.31,1535.5 868.17,1545 895.58,1562 923,1562.5 1005.25,1613.25 1087.5,1649.25" fill="none" stroke="#EBA030" stroke-width="1.9" stroke-linejoin="round"/>
<polyline points="840.75,1420 854.46,1499.5 861.31,1515 868.17,1517.5 895.58,1505 923,1463.75 1005.25,1377.5 1087.5,1357.5" fill="none" stroke="#869A45" stroke-width="1.9" stroke-linejoin="round"/>
<g fill="#8E1A15" stroke="none"><path d="M840.75 1379.5V1389.5M847.6 1385.5V1518M854.46 1465V1537.5M861.31 1495.75V1510.75M868.17 1474.25V1529.25M895.58 1481.75V1516.75M923 1473.25V1488.25M1005.25 1342V1419.5M1087.5 1382.5V1390" stroke="#8E1A15" stroke-width="1.7" fill="none"/><circle cx="840.75" cy="1384.5" r="4.3"/><circle cx="847.6" cy="1451.75" r="4.3"/><circle cx="854.46" cy="1501.25" r="4.3"/><circle cx="861.31" cy="1503.25" r="4.3"/><circle cx="868.17" cy="1501.75" r="4.3"/><circle cx="895.58" cy="1499.25" r="4.3"/><circle cx="923" cy="1480.75" r="4.3"/><circle cx="1005.25" cy="1380.75" r="4.3"/><circle cx="1087.5" cy="1386.25" r="4.3"/></g>
<g fill="#808080" stroke="none"><path d="M840.75 1438V1445.5M847.6 1486.25V1506.25M854.46 1499.5V1544.5M861.31 1512.5V1527.5M868.17 1527.5V1537.5M895.58 1498.75V1528.75M923 1477.5V1517.5M1005.25 1343.75V1418.75M1087.5 1360V1440" stroke="#808080" stroke-width="1.7" fill="none"/><circle cx="840.75" cy="1441.75" r="4.3"/><circle cx="847.6" cy="1496.25" r="4.3"/><circle cx="854.46" cy="1522" r="4.3"/><circle cx="861.31" cy="1520" r="4.3"/><circle cx="868.17" cy="1532.5" r="4.3"/><circle cx="895.58" cy="1513.75" r="4.3"/><circle cx="923" cy="1497.5" r="4.3"/><circle cx="1005.25" cy="1381.25" r="4.3"/><circle cx="1087.5" cy="1400" r="4.3"/></g>
<g fill="#EBA030" stroke="none"><path d="M840.75 1353.75V1513.75M847.6 1448.75V1463.75M854.46 1511.25V1526.25M861.31 1530.5V1540.5M868.17 1538.75V1551.25M895.58 1548.25V1575.75M923 1540V1585M1005.25 1580.75V1645.75M1087.5 1646.75V1651.75" stroke="#EBA030" stroke-width="1.7" fill="none"/><circle cx="840.75" cy="1433.75" r="4.3"/><circle cx="847.6" cy="1456.25" r="4.3"/><circle cx="854.46" cy="1518.75" r="4.3"/><circle cx="861.31" cy="1535.5" r="4.3"/><circle cx="868.17" cy="1545" r="4.3"/><circle cx="895.58" cy="1562" r="4.3"/><circle cx="923" cy="1562.5" r="4.3"/><circle cx="1005.25" cy="1613.25" r="4.3"/><circle cx="1087.5" cy="1649.25" r="4.3"/></g>
<g fill="#869A45" stroke="none"><path d="M840.75 1351.25V1488.75M854.46 1492V1507M861.31 1507.5V1522.5M868.17 1507.5V1527.5M895.58 1497.5V1512.5M923 1442.5V1485M1005.25 1338.75V1416.25M1087.5 1323.75V1391.25" stroke="#869A45" stroke-width="1.7" fill="none"/><circle cx="840.75" cy="1420" r="4.3"/><circle cx="854.46" cy="1499.5" r="4.3"/><circle cx="861.31" cy="1515" r="4.3"/><circle cx="868.17" cy="1517.5" r="4.3"/><circle cx="895.58" cy="1505" r="4.3"/><circle cx="923" cy="1463.75" r="4.3"/><circle cx="1005.25" cy="1377.5" r="4.3"/><circle cx="1087.5" cy="1357.5" r="4.3"/></g>
</g>
<g id="p16">
<path d="M1168.75 1307V1665.75H1440" fill="none" stroke="#000" stroke-width="1.8" stroke-linejoin="miter"/>
<text transform="translate(1181.85 1686.45) scale(1.06 1)" font-size="17.5" text-anchor="middle" fill="#404040" stroke="#404040" stroke-width="0.35">0</text>
<text transform="translate(1273.24 1686.45) scale(1.06 1)" font-size="17.5" text-anchor="middle" fill="#404040" stroke="#404040" stroke-width="0.35">200</text>
<text transform="translate(1364.63 1686.45) scale(1.06 1)" font-size="17.5" text-anchor="middle" fill="#404040" stroke="#404040" stroke-width="0.35">400</text>
<text transform="translate(1161.75 1314.1) scale(1.06 1)" font-size="17.5" text-anchor="end" fill="#404040" stroke="#404040" stroke-width="0.35">0.050</text>
<text transform="translate(1161.75 1403.6) scale(1.06 1)" font-size="17.5" text-anchor="end" fill="#404040" stroke="#404040" stroke-width="0.35">0.025</text>
<text transform="translate(1161.75 1493.35) scale(1.06 1)" font-size="17.5" text-anchor="end" fill="#404040" stroke="#404040" stroke-width="0.35">0.000</text>
<text transform="translate(1161.75 1582.85) scale(1.06 1)" font-size="17.5" text-anchor="end" fill="#404040" stroke="#404040" stroke-width="0.35">−0.025</text>
<text transform="translate(1161.75 1672.35) scale(1.06 1)" font-size="17.5" text-anchor="end" fill="#404040" stroke="#404040" stroke-width="0.35">−0.050</text>
<path d="M1181.25 1666.75v4.5M1272.64 1666.75v4.5M1364.03 1666.75v4.5M1167.75 1307.5h-4.5M1167.75 1397h-4.5M1167.75 1486.75h-4.5M1167.75 1576.25h-4.5M1167.75 1665.75h-4.5" fill="none" stroke="#333" stroke-width="1.6"/>
<polyline points="1181.25,1486.75 1188.1,1486.75 1194.96,1486.75 1201.81,1486.75 1208.67,1486.75 1236.08,1486.75 1263.5,1486.75 1345.75,1486.75 1428,1486.75" fill="none" stroke="#8E1A15" stroke-width="1.9" stroke-linejoin="round"/>
<polyline points="1181.25,1486.75 1188.1,1486.75 1194.96,1486.75 1201.81,1486.75 1208.67,1486.75 1236.08,1486.75 1263.5,1486.75 1345.75,1486.75 1428,1486.75" fill="none" stroke="#808080" stroke-width="1.9" stroke-linejoin="round"/>
<polyline points="1181.25,1486.75 1188.1,1486.75 1194.96,1486.75 1201.81,1486.75 1208.67,1486.75 1236.08,1486.75 1263.5,1486.75 1345.75,1486.75 1428,1486.75" fill="none" stroke="#EBA030" stroke-width="1.9" stroke-linejoin="round"/>
<polyline points="1181.25,1486.75 1188.1,1486.75 1194.96,1486.75 1201.81,1486.75 1208.67,1486.75 1236.08,1486.75 1263.5,1486.75 1345.75,1486.75 1428,1486.75" fill="none" stroke="#869A45" stroke-width="1.9" stroke-linejoin="round"/>
<g fill="#8E1A15" stroke="none"><path d="" stroke="#8E1A15" stroke-width="1.7" fill="none"/><circle cx="1181.25" cy="1486.75" r="4.3"/><circle cx="1188.1" cy="1486.75" r="4.3"/><circle cx="1194.96" cy="1486.75" r="4.3"/><circle cx="1201.81" cy="1486.75" r="4.3"/><circle cx="1208.67" cy="1486.75" r="4.3"/><circle cx="1236.08" cy="1486.75" r="4.3"/><circle cx="1263.5" cy="1486.75" r="4.3"/><circle cx="1345.75" cy="1486.75" r="4.3"/><circle cx="1428" cy="1486.75" r="4.3"/></g>
<g fill="#808080" stroke="none"><path d="" stroke="#808080" stroke-width="1.7" fill="none"/><circle cx="1181.25" cy="1486.75" r="4.3"/><circle cx="1188.1" cy="1486.75" r="4.3"/><circle cx="1194.96" cy="1486.75" r="4.3"/><circle cx="1201.81" cy="1486.75" r="4.3"/><circle cx="1208.67" cy="1486.75" r="4.3"/><circle cx="1236.08" cy="1486.75" r="4.3"/><circle cx="1263.5" cy="1486.75" r="4.3"/><circle cx="1345.75" cy="1486.75" r="4.3"/><circle cx="1428" cy="1486.75" r="4.3"/></g>
<g fill="#EBA030" stroke="none"><path d="" stroke="#EBA030" stroke-width="1.7" fill="none"/><circle cx="1181.25" cy="1486.75" r="4.3"/><circle cx="1188.1" cy="1486.75" r="4.3"/><circle cx="1194.96" cy="1486.75" r="4.3"/><circle cx="1201.81" cy="1486.75" r="4.3"/><circle cx="1208.67" cy="1486.75" r="4.3"/><circle cx="1236.08" cy="1486.75" r="4.3"/><circle cx="1263.5" cy="1486.75" r="4.3"/><circle cx="1345.75" cy="1486.75" r="4.3"/><circle cx="1428" cy="1486.75" r="4.3"/></g>
<g fill="#869A45" stroke="none"><path d="" stroke="#869A45" stroke-width="1.7" fill="none"/><circle cx="1181.25" cy="1486.75" r="4.3"/><circle cx="1188.1" cy="1486.75" r="4.3"/><circle cx="1194.96" cy="1486.75" r="4.3"/><circle cx="1201.81" cy="1486.75" r="4.3"/><circle cx="1208.67" cy="1486.75" r="4.3"/><circle cx="1236.08" cy="1486.75" r="4.3"/><circle cx="1263.5" cy="1486.75" r="4.3"/><circle cx="1345.75" cy="1486.75" r="4.3"/><circle cx="1428" cy="1486.75" r="4.3"/></g>
</g>
<g id="p17">
<path d="M1536.25 1308V1665.75H1808.75" fill="none" stroke="#000" stroke-width="1.8" stroke-linejoin="miter"/>
<text transform="translate(1548.85 1686.45) scale(1.06 1)" font-size="17.5" text-anchor="middle" fill="#404040" stroke="#404040" stroke-width="0.35">0</text>
<text transform="translate(1640.98 1686.45) scale(1.06 1)" font-size="17.5" text-anchor="middle" fill="#404040" stroke="#404040" stroke-width="0.35">200</text>
<text transform="translate(1733.11 1686.45) scale(1.06 1)" font-size="17.5" text-anchor="middle" fill="#404040" stroke="#404040" stroke-width="0.35">400</text>
<text transform="translate(1529.25 1395.85) scale(1.06 1)" font-size="17.5" text-anchor="end" fill="#404040" stroke="#404040" stroke-width="0.35">6e+06</text>
<text transform="translate(1529.25 1482.35) scale(1.06 1)" font-size="17.5" text-anchor="end" fill="#404040" stroke="#404040" stroke-width="0.35">4e+06</text>
<text transform="translate(1529.25 1569.1) scale(1.06 1)" font-size="17.5" text-anchor="end" fill="#404040" stroke="#404040" stroke-width="0.35">2e+06</text>
<text transform="translate(1529.25 1655.85) scale(1.06 1)" font-size="17.5" text-anchor="end" fill="#404040" stroke="#404040" stroke-width="0.35">0e+00</text>
<path d="M1548.25 1666.75v4.5M1640.38 1666.75v4.5M1732.51 1666.75v4.5M1535.25 1389.25h-4.5M1535.25 1475.75h-4.5M1535.25 1562.5h-4.5M1535.25 1649.25h-4.5" fill="none" stroke="#333" stroke-width="1.6"/>
<polyline points="1548.25,1649.25 1555.16,1649.25 1562.07,1649.25 1568.98,1649.25 1575.89,1649.25 1603.53,1649.25 1631.17,1649.25 1714.08,1649.25 1797,1649.25" fill="none" stroke="#8E1A15" stroke-width="1.9" stroke-linejoin="round"/>
<polyline points="1548.25,1649.25 1555.16,1649.25 1562.07,1649.25 1568.98,1649.25 1575.89,1649.25 1603.53,1649.25 1631.17,1649.25 1714.08,1649.25 1797,1649.25" fill="none" stroke="#808080" stroke-width="1.9" stroke-linejoin="round"/>
<polyline points="1548.25,1649.25 1555.16,1648.75 1562.07,1647 1568.98,1646.25 1575.89,1644.5 1603.53,1635 1631.17,1620.5 1714.08,1518 1797,1348.25" fill="none" stroke="#EBA030" stroke-width="1.9" stroke-linejoin="round"/>
<polyline points="1548.25,1649.25 1555.16,1649.25 1562.07,1649.25 1568.98,1649.25 1575.89,1649.25 1603.53,1649.25 1631.17,1649.25 1714.08,1649.25 1797,1649.25" fill="none" stroke="#869A45" stroke-width="1.9" stroke-linejoin="round"/>
<g fill="#8E1A15" stroke="none"><path d="" stroke="#8E1A15" stroke-width="1.7" fill="none"/><circle cx="1548.25" cy="1649.25" r="4.3"/><circle cx="1555.16" cy="1649.25" r="4.3"/><circle cx="1562.07" cy="1649.25" r="4.3"/><circle cx="1568.98" cy="1649.25" r="4.3"/><circle cx="1575.89" cy="1649.25" r="4.3"/><circle cx="1603.53" cy="1649.25" r="4.3"/><circle cx="1631.17" cy="1649.25" r="4.3"/><circle cx="1714.08" cy="1649.25" r="4.3"/><circle cx="1797" cy="1649.25" r="4.3"/></g>
<g fill="#808080" stroke="none"><path d="" stroke="#808080" stroke-width="1.7" fill="none"/><circle cx="1548.25" cy="1649.25" r="4.3"/><circle cx="1555.16" cy="1649.25" r="4.3"/><circle cx="1562.07" cy="1649.25" r="4.3"/><circle cx="1568.98" cy="1649.25" r="4.3"/><circle cx="1575.89" cy="1649.25" r="4.3"/><circle cx="1603.53" cy="1649.25" r="4.3"/><circle cx="1631.17" cy="1649.25" r="4.3"/><circle cx="1714.08" cy="1649.25" r="4.3"/><circle cx="1797" cy="1649.25" r="4.3"/></g>
<g fill="#EBA030" stroke="none"><path d="M1548.25 1648V1650.5M1555.16 1647.5V1650M1562.07 1644.5V1649.5M1568.98 1643.75V1648.75M1575.89 1642V1647M1603.53 1632.5V1637.5M1631.17 1616.75V1624.25M1714.08 1449.25V1586.75M1797 1322.75V1373.75" stroke="#EBA030" stroke-width="1.7" fill="none"/><circle cx="1548.25" cy="1649.25" r="4.3"/><circle cx="1555.16" cy="1648.75" r="4.3"/><circle cx="1562.07" cy="1647" r="4.3"/><circle cx="1568.98" cy="1646.25" r="4.3"/><circle cx="1575.89" cy="1644.5" r="4.3"/><circle cx="1603.53" cy="1635" r="4.3"/><circle cx="1631.17" cy="1620.5" r="4.3"/><circle cx="1714.08" cy="1518" r="4.3"/><circle cx="1797" cy="1348.25" r="4.3"/></g>
<g fill="#869A45" stroke="none"><path d="" stroke="#869A45" stroke-width="1.7" fill="none"/><circle cx="1548.25" cy="1649.25" r="4.3"/><circle cx="1555.16" cy="1649.25" r="4.3"/><circle cx="1562.07" cy="1649.25" r="4.3"/><circle cx="1568.98" cy="1649.25" r="4.3"/><circle cx="1575.89" cy="1649.25" r="4.3"/><circle cx="1603.53" cy="1649.25" r="4.3"/><circle cx="1631.17" cy="1649.25" r="4.3"/><circle cx="1714.08" cy="1649.25" r="4.3"/><circle cx="1797" cy="1649.25" r="4.3"/></g>
</g>
<g id="p18">
<path d="M1874 1308V1665.75H2147" fill="none" stroke="#000" stroke-width="1.8" stroke-linejoin="miter"/>
<text transform="translate(1887.1 1686.45) scale(1.06 1)" font-size="17.5" text-anchor="middle" fill="#404040" stroke="#404040" stroke-width="0.35">0</text>
<text transform="translate(1979.23 1686.45) scale(1.06 1)" font-size="17.5" text-anchor="middle" fill="#404040" stroke="#404040" stroke-width="0.35">200</text>
<text transform="translate(2071.36 1686.45) scale(1.06 1)" font-size="17.5" text-anchor="middle" fill="#404040" stroke="#404040" stroke-width="0.35">400</text>
<text transform="translate(1867 1346.6) scale(1.06 1)" font-size="17.5" text-anchor="end" fill="#404040" stroke="#404040" stroke-width="0.35">4e+05</text>
<text transform="translate(1867 1422.85) scale(1.06 1)" font-size="17.5" text-anchor="end" fill="#404040" stroke="#404040" stroke-width="0.35">3e+05</text>
<text transform="translate(1867 1499.1) scale(1.06 1)" font-size="17.5" text-anchor="end" fill="#404040" stroke="#404040" stroke-width="0.35">2e+05</text>
<text transform="translate(1867 1574.85) scale(1.06 1)" font-size="17.5" text-anchor="end" fill="#404040" stroke="#404040" stroke-width="0.35">1e+05</text>
<text transform="translate(1867 1650.85) scale(1.06 1)" font-size="17.5" text-anchor="end" fill="#404040" stroke="#404040" stroke-width="0.35">0e+00</text>
<path d="M1886.5 1666.75v4.5M1978.63 1666.75v4.5M2070.76 1666.75v4.5M1873 1340h-4.5M1873 1416.25h-4.5M1873 1492.5h-4.5M1873 1568.25h-4.5M1873 1644.25h-4.5" fill="none" stroke="#333" stroke-width="1.6"/>
<polyline points="1886.5,1644.25 1893.41,1644.25 1900.32,1644.25 1907.23,1644.25 1914.14,1644.25 1941.78,1644.25 1969.42,1644.25 2052.33,1644.25 2135.25,1644.25" fill="none" stroke="#8E1A15" stroke-width="1.9" stroke-linejoin="round"/>
<polyline points="1886.5,1644.25 1893.41,1644.25 1900.32,1644.25 1907.23,1644.25 1914.14,1644.25 1941.78,1644.25 1969.42,1644.25 2052.33,1644.25 2135.25,1644.25" fill="none" stroke="#808080" stroke-width="1.9" stroke-linejoin="round"/>
<polyline points="1886.5,1644.25 1893.41,1643.75 1900.32,1640 1907.23,1637.5 1914.14,1631.75 1941.78,1588.25 1969.42,1555 2052.33,1364.25 2135.25,1333.75" fill="none" stroke="#EBA030" stroke-width="1.9" stroke-linejoin="round"/>
<polyline points="1886.5,1644.25 1893.41,1644.25 1900.32,1644.25 1907.23,1644.25 1914.14,1644.25 1941.78,1644.25 1969.42,1644.25 2052.33,1644.25 2135.25,1644.25" fill="none" stroke="#869A45" stroke-width="1.9" stroke-linejoin="round"/>
<g fill="#8E1A15" stroke="none"><path d="" stroke="#8E1A15" stroke-width="1.7" fill="none"/><circle cx="1886.5" cy="1644.25" r="4.3"/><circle cx="1893.41" cy="1644.25" r="4.3"/><circle cx="1900.32" cy="1644.25" r="4.3"/><circle cx="1907.23" cy="1644.25" r="4.3"/><circle cx="1914.14" cy="1644.25" r="4.3"/><circle cx="1941.78" cy="1644.25" r="4.3"/><circle cx="1969.42" cy="1644.25" r="4.3"/><circle cx="2052.33" cy="1644.25" r="4.3"/><circle cx="2135.25" cy="1644.25" r="4.3"/></g>
<g fill="#808080" stroke="none"><path d="" stroke="#808080" stroke-width="1.7" fill="none"/><circle cx="1886.5" cy="1644.25" r="4.3"/><circle cx="1893.41" cy="1644.25" r="4.3"/><circle cx="1900.32" cy="1644.25" r="4.3"/><circle cx="1907.23" cy="1644.25" r="4.3"/><circle cx="1914.14" cy="1644.25" r="4.3"/><circle cx="1941.78" cy="1644.25" r="4.3"/><circle cx="1969.42" cy="1644.25" r="4.3"/><circle cx="2052.33" cy="1644.25" r="4.3"/><circle cx="2135.25" cy="1644.25" r="4.3"/></g>
<g fill="#EBA030" stroke="none"><path d="M1886.5 1643V1645.5M1893.41 1642.5V1645M1900.32 1632.5V1647.5M1907.23 1623.75V1651.25M1914.14 1619.25V1644.25M1941.78 1584.5V1592M1969.42 1551.25V1558.75M2052.33 1333V1395.5M2135.25 1323.25V1344.25" stroke="#EBA030" stroke-width="1.7" fill="none"/><circle cx="1886.5" cy="1644.25" r="4.3"/><circle cx="1893.41" cy="1643.75" r="4.3"/><circle cx="1900.32" cy="1640" r="4.3"/><circle cx="1907.23" cy="1637.5" r="4.3"/><circle cx="1914.14" cy="1631.75" r="4.3"/><circle cx="1941.78" cy="1588.25" r="4.3"/><circle cx="1969.42" cy="1555" r="4.3"/><circle cx="2052.33" cy="1364.25" r="4.3"/><circle cx="2135.25" cy="1333.75" r="4.3"/></g>
<g fill="#869A45" stroke="none"><path d="" stroke="#869A45" stroke-width="1.7" fill="none"/><circle cx="1886.5" cy="1644.25" r="4.3"/><circle cx="1893.41" cy="1644.25" r="4.3"/><circle cx="1900.32" cy="1644.25" r="4.3"/><circle cx="1907.23" cy="1644.25" r="4.3"/><circle cx="1914.14" cy="1644.25" r="4.3"/><circle cx="1941.78" cy="1644.25" r="4.3"/><circle cx="1969.42" cy="1644.25" r="4.3"/><circle cx="2052.33" cy="1644.25" r="4.3"/><circle cx="2135.25" cy="1644.25" r="4.3"/></g>
</g>
<text transform="translate(269.75 146.3) scale(1.095 1)" font-size="20.3" text-anchor="middle" fill="#000" stroke="#000" stroke-width="0.25">200µM</text>
<text transform="translate(603.75 146.3) scale(1.095 1)" font-size="20.3" text-anchor="middle" fill="#000" stroke="#000" stroke-width="0.25">20µM</text>
<text transform="translate(976.5 146.3) scale(1.095 1)" font-size="20.3" text-anchor="middle" fill="#000" stroke="#000" stroke-width="0.25">200µM</text>
<text transform="translate(1318 146.3) scale(1.095 1)" font-size="20.3" text-anchor="middle" fill="#000" stroke="#000" stroke-width="0.25">20µM</text>
<text transform="translate(1694 146.3) scale(1.095 1)" font-size="20.3" text-anchor="middle" fill="#000" stroke="#000" stroke-width="0.25">200µM</text>
<text transform="translate(2035.5 146.3) scale(1.095 1)" font-size="20.3" text-anchor="middle" fill="#000" stroke="#000" stroke-width="0.25">20µM</text>
<text transform="translate(258.75 685.5) scale(1.095 1)" font-size="20.3" text-anchor="middle" fill="#000" stroke="#000" stroke-width="0.25">200µM</text>
<text transform="translate(600.25 685.5) scale(1.095 1)" font-size="20.3" text-anchor="middle" fill="#000" stroke="#000" stroke-width="0.25">20µM</text>
<text transform="translate(988.5 685.5) scale(1.095 1)" font-size="20.3" text-anchor="middle" fill="#000" stroke="#000" stroke-width="0.25">200µM</text>
<text transform="translate(1324.6 685.5) scale(1.095 1)" font-size="20.3" text-anchor="middle" fill="#000" stroke="#000" stroke-width="0.25">20µM</text>
<text transform="translate(1708 685.5) scale(1.095 1)" font-size="20.3" text-anchor="middle" fill="#000" stroke="#000" stroke-width="0.25">200µM</text>
<text transform="translate(2039.25 685.5) scale(1.095 1)" font-size="20.3" text-anchor="middle" fill="#000" stroke="#000" stroke-width="0.25">20µM</text>
<text transform="translate(269.25 1298.8) scale(1.095 1)" font-size="20.3" text-anchor="middle" fill="#000" stroke="#000" stroke-width="0.25">200µM</text>
<text transform="translate(605.5 1298.8) scale(1.095 1)" font-size="20.3" text-anchor="middle" fill="#000" stroke="#000" stroke-width="0.25">20µM</text>
<text transform="translate(975.4 1298.8) scale(1.095 1)" font-size="20.3" text-anchor="middle" fill="#000" stroke="#000" stroke-width="0.25">200µM</text>
<text transform="translate(1313.75 1298.8) scale(1.095 1)" font-size="20.3" text-anchor="middle" fill="#000" stroke="#000" stroke-width="0.25">20µM</text>
<text transform="translate(1683.5 1298.8) scale(1.095 1)" font-size="20.3" text-anchor="middle" fill="#000" stroke="#000" stroke-width="0.25">200µM</text>
<text transform="translate(2019.5 1298.8) scale(1.095 1)" font-size="20.3" text-anchor="middle" fill="#000" stroke="#000" stroke-width="0.25">20µM</text>
<text transform="translate(124.5 85.5) scale(1.086 1)" font-size="25.2" text-anchor="start" fill="#000" stroke="#000" stroke-width="0.3">Isoliquiritigenin</text>
<text transform="translate(124.5 112.5) scale(1.086 1)" font-size="25.2" text-anchor="start" fill="#000" stroke="#000" stroke-width="0.3">Isoliquiritigenin as substrate</text>
<text transform="translate(827.25 85.5) scale(1.086 1)" font-size="25.2" text-anchor="start" fill="#000" stroke="#000" stroke-width="0.3">Liquiritigenin</text>
<text transform="translate(827.25 112.5) scale(1.086 1)" font-size="25.2" text-anchor="start" fill="#000" stroke="#000" stroke-width="0.3">Isoliquiritigenin as substrate</text>
<text transform="translate(1544.25 85.5) scale(1.086 1)" font-size="25.2" text-anchor="start" fill="#000" stroke="#000" stroke-width="0.3">Davidigenin</text>
<text transform="translate(1544.25 112.5) scale(1.086 1)" font-size="25.2" text-anchor="start" fill="#000" stroke="#000" stroke-width="0.3">Isoliquiritigenin as substrate</text>
<text transform="translate(110 623.5) scale(1.086 1)" font-size="25.2" text-anchor="start" fill="#000" stroke="#000" stroke-width="0.3">Butein</text>
<text transform="translate(110 650.75) scale(1.086 1)" font-size="25.2" text-anchor="start" fill="#000" stroke="#000" stroke-width="0.3">Butein as substrate</text>
<text transform="translate(846.25 623.5) scale(1.086 1)" font-size="25.2" text-anchor="start" fill="#000" stroke="#000" stroke-width="0.3">Butin</text>
<text transform="translate(846.25 650.75) scale(1.086 1)" font-size="25.2" text-anchor="start" fill="#000" stroke="#000" stroke-width="0.3">Butein as substrate</text>
<text transform="translate(1562.75 623.5) scale(1.086 1)" font-size="25.2" text-anchor="start" fill="#000" stroke="#000" stroke-width="0.3">Butin−FcrP2</text>
<text transform="translate(1562.75 650.75) scale(1.086 1)" font-size="25.2" text-anchor="start" fill="#000" stroke="#000" stroke-width="0.3">Butein as substrate</text>
<text transform="translate(121.25 1238) scale(1.06 1)" font-size="25.2" text-anchor="start" fill="#000" stroke="#000" stroke-width="0.3">Butin</text>
<text transform="translate(121.25 1265.2) scale(1.06 1)" font-size="25.2" text-anchor="start" fill="#000" stroke="#000" stroke-width="0.3">Butin as substrate</text>
<text transform="translate(828.25 1238) scale(1.06 1)" font-size="25.2" text-anchor="start" fill="#000" stroke="#000" stroke-width="0.3">Butein</text>
<text transform="translate(828.25 1265.2) scale(1.06 1)" font-size="25.2" text-anchor="start" fill="#000" stroke="#000" stroke-width="0.3">Butin as substrate</text>
<text transform="translate(1536.25 1238) scale(1.06 1)" font-size="25.2" text-anchor="start" fill="#000" stroke="#000" stroke-width="0.3">Butin−FcrP2</text>
<text transform="translate(1536.25 1265.2) scale(1.06 1)" font-size="25.2" text-anchor="start" fill="#000" stroke="#000" stroke-width="0.3">Butin as substrate</text>
<text transform="translate(33.75 350) rotate(-90)" font-size="38.9" text-anchor="middle" textLength="291.97" lengthAdjust="spacingAndGlyphs">Peak area (A.U.)</text>
<text transform="translate(762.5 349) rotate(-90)" font-size="38.9" text-anchor="middle" textLength="291.97" lengthAdjust="spacingAndGlyphs">Peak area (A.U.)</text>
<text transform="translate(1476.25 349) rotate(-90)" font-size="38.9" text-anchor="middle" textLength="291.97" lengthAdjust="spacingAndGlyphs">Peak area (A.U.)</text>
<text transform="translate(33.75 888) rotate(-90)" font-size="38.9" text-anchor="middle" textLength="291.97" lengthAdjust="spacingAndGlyphs">Peak area (A.U.)</text>
<text transform="translate(759.5 888) rotate(-90)" font-size="38.9" text-anchor="middle" textLength="291.97" lengthAdjust="spacingAndGlyphs">Peak area (A.U.)</text>
<text transform="translate(1480 888) rotate(-90)" font-size="38.9" text-anchor="middle" textLength="291.97" lengthAdjust="spacingAndGlyphs">Peak area (A.U.)</text>
<text transform="translate(46.8 1486) rotate(-90)" font-size="38.9" text-anchor="middle" textLength="278" lengthAdjust="spacingAndGlyphs">Peak area (A.U.)</text>
<text transform="translate(765.5 1486) rotate(-90)" font-size="38.9" text-anchor="middle" textLength="278" lengthAdjust="spacingAndGlyphs">Peak area (A.U.)</text>
<text transform="translate(1472.8 1486) rotate(-90)" font-size="38.9" text-anchor="middle" textLength="278" lengthAdjust="spacingAndGlyphs">Peak area (A.U.)</text>
<text transform="translate(436.25 592.8) scale(1.026 1)" font-size="38.7" text-anchor="middle" fill="#000">Time (min)</text>
<text transform="translate(1148 592.8) scale(1.026 1)" font-size="38.7" text-anchor="middle" fill="#000">Time (min)</text>
<text transform="translate(1865 592.8) scale(1.026 1)" font-size="38.7" text-anchor="middle" fill="#000">Time (min)</text>
<text transform="translate(429.75 1131.55) scale(1.026 1)" font-size="38.7" text-anchor="middle" fill="#000">Time (min)</text>
<text transform="translate(1156 1131.55) scale(1.026 1)" font-size="38.7" text-anchor="middle" fill="#000">Time (min)</text>
<text transform="translate(1874 1131.55) scale(1.026 1)" font-size="38.7" text-anchor="middle" fill="#000">Time (min)</text>
<text transform="translate(474 1715.3) scale(1.026 1)" font-size="37.8" text-anchor="middle" fill="#000">Time (min)</text>
<text transform="translate(1182 1715.3) scale(1.026 1)" font-size="37.8" text-anchor="middle" fill="#000">Time (min)</text>
<text transform="translate(1889.7 1715.3) scale(1.026 1)" font-size="37.8" text-anchor="middle" fill="#000">Time (min)</text>
<text transform="translate(15.4 28.6) scale(1.12 1)" font-size="40" text-anchor="start" fill="#000" stroke="#000" stroke-width="0.3">a</text>
<text transform="translate(15.2 1184.6) scale(1.15 1)" font-size="39.5" text-anchor="start" fill="#000" stroke="#000" stroke-width="0.3">b</text>
<text transform="translate(735 30.5) scale(1.025 1)" font-size="25.5" text-anchor="start" fill="#000" stroke="#000" stroke-width="0.25">condition</text>
<path d="M869.6 20.3H906.4" stroke="#8E1A15" stroke-width="1.8"/><circle cx="888" cy="20.3" r="5.3" fill="#8E1A15"/>
<path d="M1021.1 20.3H1057.9" stroke="#808080" stroke-width="1.8"/><circle cx="1039.5" cy="20.3" r="5.3" fill="#808080"/>
<path d="M1147.3 20.3H1184.1" stroke="#EBA030" stroke-width="1.8"/><circle cx="1165.7" cy="20.3" r="5.3" fill="#EBA030"/>
<path d="M1322.35 20.3H1359.15" stroke="#869A45" stroke-width="1.8"/><circle cx="1340.75" cy="20.3" r="5.3" fill="#869A45"/>
<text transform="translate(926.25 28) scale(1.07 1)" font-size="22.7" text-anchor="start" fill="#000" stroke="#000" stroke-width="0.25">Control</text>
<text transform="translate(1077.5 28) scale(1.07 1)" font-size="22.7" text-anchor="start" fill="#000" stroke="#000" stroke-width="0.25"><tspan font-style="italic">E.coli</tspan></text>
<text transform="translate(1204.5 28) scale(1.07 1)" font-size="22.7" text-anchor="start" fill="#000" stroke="#000" stroke-width="0.25"><tspan font-style="italic">E.ramulus</tspan></text>
<text transform="translate(1378.75 28) scale(1.07 1)" font-size="22.7" text-anchor="start" fill="#000" stroke="#000" stroke-width="0.25">HK-<tspan font-style="italic">E.ramulus</tspan></text>
<text transform="translate(767 1183.75) scale(1.025 1)" font-size="25.3" text-anchor="start" fill="#000" stroke="#000" stroke-width="0.25">condition</text>
<path d="M893.45 1173.3H928.05" stroke="#8E1A15" stroke-width="1.8"/><circle cx="910.75" cy="1173.3" r="5.3" fill="#8E1A15"/>
<path d="M1036.2 1173.3H1070.8" stroke="#808080" stroke-width="1.8"/><circle cx="1053.5" cy="1173.3" r="5.3" fill="#808080"/>
<path d="M1155.2 1173.3H1189.8" stroke="#EBA030" stroke-width="1.8"/><circle cx="1172.5" cy="1173.3" r="5.3" fill="#EBA030"/>
<path d="M1319.95 1173.3H1354.55" stroke="#869A45" stroke-width="1.8"/><circle cx="1337.25" cy="1173.3" r="5.3" fill="#869A45"/>
<text transform="translate(947 1181.25) scale(1.07 1)" font-size="22.5" text-anchor="start" fill="#000" stroke="#000" stroke-width="0.25">Control</text>
<text transform="translate(1090 1181.25) scale(1.07 1)" font-size="22.5" text-anchor="start" fill="#000" stroke="#000" stroke-width="0.25"><tspan font-style="italic">E.coli</tspan></text>
<text transform="translate(1208.75 1181.25) scale(1.07 1)" font-size="22.5" text-anchor="start" fill="#000" stroke="#000" stroke-width="0.25"><tspan font-style="italic">E.ramulus</tspan></text>
<text transform="translate(1372.5 1181.25) scale(1.07 1)" font-size="22.5" text-anchor="start" fill="#000" stroke="#000" stroke-width="0.25">HK-<tspan font-style="italic">E.ramulus</tspan></text>
</svg>
</body></html>
